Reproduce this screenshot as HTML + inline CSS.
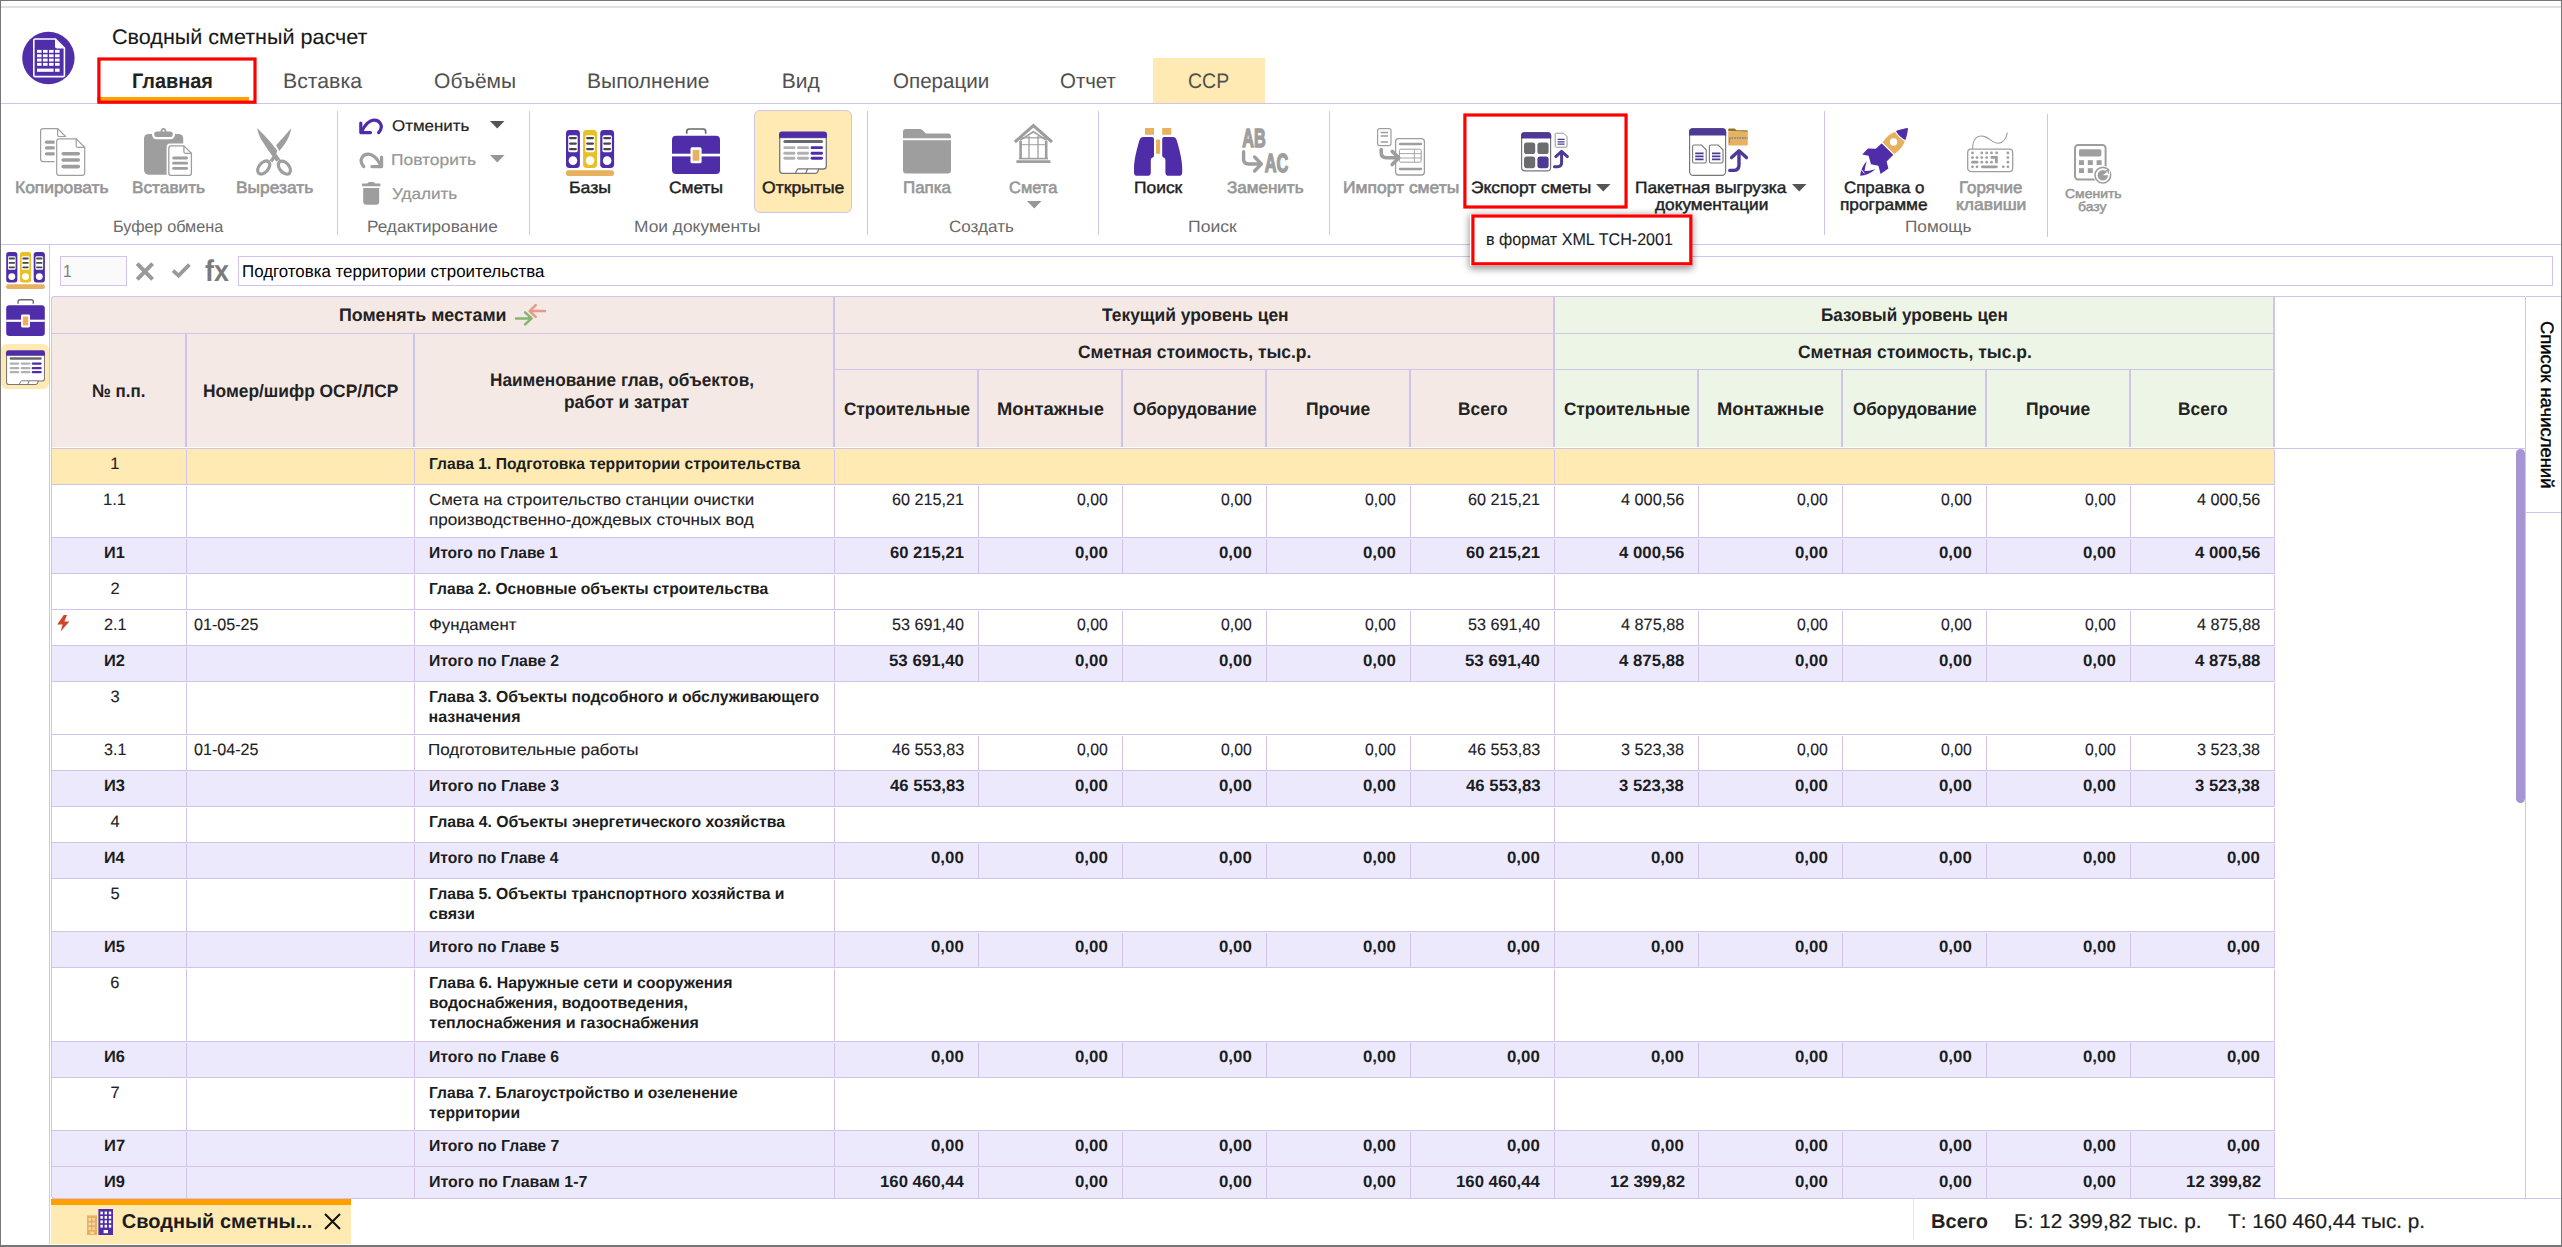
<!DOCTYPE html>
<html lang="ru"><head><meta charset="utf-8"><title>Сводный сметный расчет</title>
<style>
html,body{margin:0;padding:0;background:#fff;}
#app{position:relative;width:2562px;height:1247px;overflow:hidden;background:#fff;font-family:"Liberation Sans", sans-serif;color:#222;text-rendering:geometricPrecision;}
#app div,#app svg,#app span.t{position:absolute;}
#app div{box-sizing:border-box;}
#app span.t{white-space:nowrap;line-height:1;transform-origin:0 0;}
#app svg{overflow:visible;}
</style></head>
<body>
<div id="app">
<div style="left:0px;top:0px;width:2562px;height:1px;background:#777;"></div>
<div style="left:0px;top:6px;width:2562px;height:2px;background:#dfe0df;"></div>
<div style="left:0px;top:0px;width:1px;height:1247px;background:#777;"></div>
<div style="left:2561px;top:0px;width:1px;height:1247px;background:#777;"></div>
<div style="left:0px;top:1245px;width:2562px;height:2px;background:#777;"></div>
<svg style="left:22px;top:32px;" width="53" height="53" viewBox="0 0 53 53"><circle cx="26.4" cy="26" r="26.2" fill="#502da9"/><path d="M13.2 7H33.4L42.4 16.2V43.2Q42.4 44.6 41 44.6H13.2Q11.8 44.6 11.8 43.2V8.4Q11.8 7 13.2 7Z" fill="none" stroke="#fff" stroke-width="1.6"/><path d="M33 7.4V14.4Q33 16.4 35 16.4H42Z" fill="#fff"/><rect x="15.0" y="17.9" width="4.6" height="2.9" fill="#fff"/><rect x="21.0" y="17.9" width="4.6" height="2.9" fill="#fff"/><rect x="27.0" y="17.9" width="4.6" height="2.9" fill="#fff"/><rect x="33.0" y="17.9" width="4.6" height="2.9" fill="#fff"/><rect x="15.0" y="22.3" width="4.6" height="2.9" fill="#fff"/><rect x="21.0" y="22.3" width="4.6" height="2.9" fill="#fff"/><rect x="27.0" y="22.3" width="4.6" height="2.9" fill="#fff"/><rect x="33.0" y="22.3" width="4.6" height="2.9" fill="#fff"/><rect x="15.0" y="26.6" width="4.6" height="2.9" fill="#fff"/><rect x="21.0" y="26.6" width="4.6" height="2.9" fill="#fff"/><rect x="27.0" y="26.6" width="4.6" height="2.9" fill="#fff"/><rect x="33.0" y="26.6" width="4.6" height="2.9" fill="#fff"/><rect x="15.0" y="30.9" width="4.6" height="2.9" fill="#fff"/><rect x="21.0" y="30.9" width="4.6" height="2.9" fill="#fff"/><rect x="27.0" y="30.9" width="4.6" height="2.9" fill="#fff"/><rect x="33.0" y="30.9" width="4.6" height="2.9" fill="#fff"/><rect x="15" y="36.6" width="16.6" height="3.2" fill="#fff"/><rect x="33" y="36.6" width="4.6" height="3.2" fill="#fff"/></svg>
<span class="t" style="left:111.62px;top:27px;font-size:21px;color:#181818;transform:scaleX(1.0269);-webkit-text-stroke:0.1px currentColor;">Сводный сметный расчет</span>
<div style="left:1153px;top:58px;width:112px;height:45px;background:#ffeab3;"></div>
<div style="left:1px;top:103px;width:2560px;height:1px;background:#d0c4ea;"></div>
<div style="left:97px;top:97px;width:152px;height:5px;background:#ffa000;"></div>
<svg style="left:0;top:0" width="2562" height="300"><rect x="98.9" y="59.0" width="156.10" height="43.20" fill="none" stroke="#ff0000" stroke-width="3.2"/></svg>
<span class="t" style="left:131.87px;top:71px;font-size:21px;font-weight:bold;transform:scaleX(0.9473);">Главная</span>
<span class="t" style="left:283.08px;top:71px;font-size:21px;color:#505050;transform:scaleX(1.0121);">Вставка</span>
<span class="t" style="left:434.10px;top:71px;font-size:21px;color:#505050;">Объёмы</span>
<span class="t" style="left:587.10px;top:71px;font-size:21px;color:#505050;">Выполнение</span>
<span class="t" style="left:781.70px;top:71px;font-size:21px;color:#505050;">Вид</span>
<span class="t" style="left:893.32px;top:71px;font-size:21px;color:#505050;transform:scaleX(0.9802);">Операции</span>
<span class="t" style="left:1060.43px;top:71px;font-size:21px;color:#505050;transform:scaleX(0.9720);">Отчет</span>
<span class="t" style="left:1188.17px;top:71px;font-size:21px;color:#505050;transform:scaleX(0.9282);">ССР</span>
<div style="left:1px;top:244px;width:2560px;height:1px;background:#d0c4ea;"></div>
<div style="left:337px;top:111px;width:1px;height:124px;background:#d0c4ea;"></div>
<div style="left:529px;top:111px;width:1px;height:124px;background:#d0c4ea;"></div>
<div style="left:867px;top:111px;width:1px;height:124px;background:#d0c4ea;"></div>
<div style="left:1098px;top:111px;width:1px;height:124px;background:#d0c4ea;"></div>
<div style="left:1329px;top:111px;width:1px;height:124px;background:#d0c4ea;"></div>
<div style="left:1824px;top:111px;width:1px;height:124px;background:#d0c4ea;"></div>
<div style="left:2047px;top:114px;width:1px;height:123px;background:#d0c4ea;"></div>
<div style="left:754px;top:110px;width:98px;height:103px;background:#ffeab3;border:1px solid #d0c4ea;border-radius:6px;"></div>
<svg style="left:40px;top:128px;" width="46" height="48" viewBox="0 0 46 48"><path d="M3.1 0.6H17.6L25.6 8.6V31.1Q25.6 33.6 23.1 33.6H3.1Q0.6 33.6 0.6 31.1V3.1Q0.6 0.6 3.1 0.6Z" fill="#fff" stroke="#9e9e9e" stroke-width="1.2"/><path d="M17.6 0.6V7.1Q17.6 8.6 19.1 8.6H25.6" fill="none" stroke="#9e9e9e" stroke-width="1.2"/><path d="M6.5 14.2H16" stroke="#9e9e9e" stroke-width="3.2" stroke-linecap="round"/><path d="M6.5 19.9H16" stroke="#9e9e9e" stroke-width="3.2" stroke-linecap="round"/><path d="M6.5 25.8H16" stroke="#9e9e9e" stroke-width="3.2" stroke-linecap="round"/><rect x="14.6" y="9" width="32" height="40" rx="3.5" fill="#fff"/><path d="M19.2 10.8H36.2L44.7 19.3V44.8Q44.7 47.3 42.2 47.3H19.2Q16.7 47.3 16.7 44.8V13.3Q16.7 10.8 19.2 10.8Z" fill="#fff" stroke="#9e9e9e" stroke-width="1.2"/><path d="M36.2 10.8V17.8Q36.2 19.3 37.7 19.3H44.7" fill="none" stroke="#9e9e9e" stroke-width="1.2"/><path d="M23.2 25.8H38.3" stroke="#9e9e9e" stroke-width="3.6" stroke-linecap="round"/><path d="M23.2 32H38.3" stroke="#9e9e9e" stroke-width="3.6" stroke-linecap="round"/><path d="M23.2 38.6H38.3" stroke="#9e9e9e" stroke-width="3.6" stroke-linecap="round"/></svg>
<svg style="left:144px;top:128px;" width="48" height="48" viewBox="0 0 48 48"><rect x="0" y="5.9" width="39.2" height="40.8" rx="4.6" fill="#9e9e9e"/><path d="M13 3.4H16.4Q17 0 19.5 0Q22 0 22.6 3.4H26Q28.8 3.4 28.8 6.2Q28.8 9 26 9H13Q10.2 9 10.2 6.2Q10.2 3.4 13 3.4Z" fill="#9e9e9e" stroke="#fff" stroke-width="4.4" stroke-linejoin="round"/><rect x="7.6" y="0" width="24" height="5.9" fill="#fff"/><path d="M13 3.4H16.4Q17 0 19.5 0Q22 0 22.6 3.4H26Q28.8 3.4 28.8 6.2Q28.8 9 26 9H13Q10.2 9 10.2 6.2Q10.2 3.4 13 3.4Z" fill="#9e9e9e"/><circle cx="19.5" cy="2.7" r="1" fill="#fff"/><rect x="22.6" y="15.6" width="27" height="34" rx="3.5" fill="#fff"/><path d="M27.3 17.8H39.900000000000006L47.400000000000006 25.3V44.900000000000006Q47.400000000000006 47.400000000000006 44.900000000000006 47.400000000000006H27.3Q24.8 47.400000000000006 24.8 44.900000000000006V20.3Q24.8 17.8 27.3 17.8Z" fill="#fff" stroke="#9e9e9e" stroke-width="1.3"/><path d="M39.900000000000006 17.8V23.8Q39.900000000000006 25.3 41.400000000000006 25.3H47.400000000000006" fill="none" stroke="#9e9e9e" stroke-width="1.3"/><path d="M29.6 30H42.6" stroke="#9e9e9e" stroke-width="2.8" stroke-linecap="round"/><path d="M29.6 35.2H42.6" stroke="#9e9e9e" stroke-width="2.8" stroke-linecap="round"/><path d="M29.6 40.4H42.6" stroke="#9e9e9e" stroke-width="2.8" stroke-linecap="round"/></svg>
<svg style="left:256px;top:128px;" width="36" height="48" viewBox="0 0 36 48"><path d="M15 33.4L18.4 28.6" stroke="#9e9e9e" stroke-width="3.4"/><path d="M35.2 0.2Q34 8.5 28.9 15.7Q26 19.8 23.3 23L20.1 17.3Q28 8.6 35.2 0.2Z" fill="#9e9e9e"/><path d="M1 0Q8 6.6 14.5 14.1L21.2 22.4L20.3 25.8L24.4 31.6L20.2 33.6L15.9 27.5Q10 19.2 4.9 10.9Q2 5.4 1 0Z" fill="#9e9e9e"/><ellipse cx="7.7" cy="39.5" rx="4.7" ry="7.6" transform="rotate(40 7.7 39.5)" fill="none" stroke="#9e9e9e" stroke-width="3.2"/><ellipse cx="28.4" cy="39.6" rx="4.7" ry="7.6" transform="rotate(-40 28.4 39.6)" fill="none" stroke="#9e9e9e" stroke-width="3.2"/></svg>
<svg style="left:359px;top:118px;" width="25" height="17" viewBox="0 0 25 17"><g fill="none" stroke="#4f2da8" stroke-width="3.2" stroke-linecap="round" stroke-linejoin="round"><path d="M19.6 14.6C25.5 8 20.5 1.8 14.6 2.2C10.5 2.5 6 7 2.6 13.4"/><path d="M1.8 5V14.6H11.5"/></g></svg>
<svg style="left:359px;top:152px;" width="25" height="17" viewBox="0 0 25 17"><g transform="translate(24.4 0) scale(-1 1)" fill="none" stroke="#9e9e9e" stroke-width="3.2" stroke-linecap="round" stroke-linejoin="round"><path d="M19.6 14.6C25.5 8 20.5 1.8 14.6 2.2C10.5 2.5 6 7 2.6 13.4"/><path d="M1.8 5V14.6H11.5"/></g></svg>
<svg style="left:362px;top:182px;" width="19" height="23" viewBox="0 0 19 23"><path d="M0 1.6H5.2Q6 0 7.6 0H10.8Q12.4 0 13.2 1.6H18.4V4.2H0Z" fill="#9e9e9e"/><path d="M1.2 6H17.2V19.6Q17.2 22.8 14 22.8H4.4Q1.2 22.8 1.2 19.6Z" fill="#9e9e9e"/></svg>
<svg style="left:566px;top:130px;" width="48" height="46" viewBox="0 0 48 46"><rect x="0.0" y="0" width="13.9" height="38" rx="3.4" fill="#4f2da8"/><rect x="2.2" y="5.2" width="9.5" height="17" rx="1.6" fill="#fff"/><circle cx="6.95" cy="30.6" r="4.3" fill="#fff"/><rect x="3.0" y="6.9" width="7.9" height="2.3" rx="1.1" fill="#46464a"/><rect x="3.0" y="12.4" width="7.9" height="2.3" rx="1.1" fill="#46464a"/><rect x="3.0" y="17.9" width="7.9" height="2.3" rx="1.1" fill="#46464a"/><rect x="17.1" y="0" width="13.9" height="38" rx="3.4" fill="#e9c025"/><rect x="19.3" y="5.2" width="9.5" height="17" rx="1.6" fill="#fff"/><circle cx="24.05" cy="30.6" r="4.3" fill="#fff"/><rect x="20.1" y="6.9" width="7.9" height="2.3" rx="1.1" fill="#46464a"/><rect x="20.1" y="12.4" width="7.9" height="2.3" rx="1.1" fill="#46464a"/><rect x="20.1" y="17.9" width="7.9" height="2.3" rx="1.1" fill="#46464a"/><rect x="34.2" y="0" width="13.9" height="38" rx="3.4" fill="#4f2da8"/><rect x="36.400000000000006" y="5.2" width="9.5" height="17" rx="1.6" fill="#fff"/><circle cx="41.150000000000006" cy="30.6" r="4.3" fill="#fff"/><rect x="37.2" y="6.9" width="7.9" height="2.3" rx="1.1" fill="#46464a"/><rect x="37.2" y="12.4" width="7.9" height="2.3" rx="1.1" fill="#46464a"/><rect x="37.2" y="17.9" width="7.9" height="2.3" rx="1.1" fill="#46464a"/><rect x="0" y="40.2" width="48" height="5.8" rx="2.2" fill="#e8b15f"/></svg>
<svg style="left:672px;top:128px;" width="48" height="46" viewBox="0 0 48 46"><path d="M14.7 5.8V3.6Q14.7 1 17.3 1H31.1Q33.7 1 33.7 3.6V5.8" fill="none" stroke="#6a6a6e" stroke-width="1.7"/><rect x="0" y="7.8" width="48" height="38.2" rx="4" fill="#4f2da8"/><rect x="0" y="25.7" width="48" height="2.7" fill="#fff"/><rect x="18.5" y="19.3" width="11.1" height="16" rx="1.6" fill="#fff"/><rect x="20.7" y="21.9" width="6.7" height="10.9" rx="0.6" fill="#e8b15f"/></svg>
<svg style="left:779px;top:131px;" width="48" height="43" viewBox="0 0 48 43"><path d="M0.7 6.5V39.6Q0.7 42.4 3.5 42.4H36.4Q38 42.4 38.6 41L39.8 38H44.5Q47.3 38 47.3 35.2V6.5Z" fill="#fff" stroke="#77777c" stroke-width="1.3"/><path d="M16.4 42.2L18.2 38.6Q18.6 37.9 19.4 37.9H40" fill="none" stroke="#77777c" stroke-width="1.2"/><path d="M28.6 38L26.8 42.2" stroke="#77777c" stroke-width="1.2"/><path d="M0 6.7V3.4Q0 0.4 3 0.4H45Q48 0.4 48 3.4V6.7Z" fill="#4f2da8"/><rect x="4.4" y="9" width="39.6" height="3" rx="1.5" fill="#68686e"/><rect x="4.4" y="15.2" width="12" height="2.9" rx="1.4" fill="#b1b1b3"/><rect x="18" y="15.2" width="12" height="2.9" rx="1.4" fill="#b1b1b3"/><rect x="31.6" y="15.2" width="12.4" height="2.9" rx="1.4" fill="#4f2da8"/><rect x="4.4" y="20.8" width="12" height="2.9" rx="1.4" fill="#b1b1b3"/><rect x="18" y="20.8" width="12" height="2.9" rx="1.4" fill="#b1b1b3"/><rect x="31.6" y="20.8" width="12.4" height="2.9" rx="1.4" fill="#4f2da8"/><rect x="4.4" y="25.8" width="12" height="2.9" rx="1.4" fill="#b1b1b3"/><rect x="18" y="25.8" width="12" height="2.9" rx="1.4" fill="#b1b1b3"/><rect x="31.6" y="25.8" width="12.4" height="2.9" rx="1.4" fill="#4f2da8"/></svg>
<svg style="left:903px;top:129px;" width="48" height="45" viewBox="0 0 48 45"><path d="M0 9.2V3Q0 0 3 0H16.5Q18.4 0 19.8 1.4L23 4.6H45Q48 4.6 48 7.6V9.2Z" fill="#9e9e9e"/><path d="M0 11.2H48V41.4Q48 44.4 45 44.4H3Q0 44.4 0 41.4Z" fill="#9e9e9e"/></svg>
<svg style="left:1014px;top:124px;" width="39" height="39" viewBox="0 0 39 39"><g fill="none" stroke="#9e9e9e"><path d="M0.8 18L19.4 1.6L38 18" stroke-width="3"/><path d="M6 16.4L19.4 7.8L32.8 16.4" stroke-width="1.6"/><path d="M6.6 17V35M32.2 17V35" stroke-width="2.6"/><path d="M6 20.6H32.8M6 13.8H32.8" stroke-width="1.4" opacity="0.8"/><path d="M15 12V35M24 12V35" stroke-width="1.5" opacity="0.85"/><path d="M4.8 34.6H34" stroke-width="1.6"/><path d="M2.4 37.6H36.4" stroke-width="2.6"/></g></svg>
<svg style="left:1134px;top:128px;" width="49" height="48" viewBox="0 0 49 48"><rect x="11" y="0" width="9" height="6.8" fill="#e8b15f"/><rect x="28.2" y="0" width="9" height="6.8" fill="#e8b15f"/><rect x="22" y="11.6" width="4.2" height="14.2" fill="#e8b15f"/><path d="M9.6 9H18Q20 9 20 11V27.6Q20 29.4 18.2 29.8Q16.8 30.2 16.8 32V44.4Q16.8 47.8 13.4 47.8H3.4Q0 47.8 0 44.4V40C0 32 3 20 5.4 12.4Q6.4 9 9.6 9Z" fill="#4f2da8"/><path d="M38.6 9H30.2Q28.2 9 28.2 11V27.6Q28.2 29.4 30 29.8Q31.4 30.2 31.4 32V44.4Q31.4 47.8 34.8 47.8H44.8Q48.2 47.8 48.2 44.4V40C48.2 32 45.2 20 42.8 12.4Q41.8 9 38.6 9Z" fill="#4f2da8"/></svg>
<svg style="left:1241px;top:129px;" width="49" height="45" viewBox="0 0 49 45"><text x="1.2" y="17.8" textLength="23.4" lengthAdjust="spacingAndGlyphs" style="font-family:&quot;Liberation Sans&quot;,sans-serif;font-weight:bold;font-size:26px;fill:#9e9e9e;stroke:#9e9e9e;stroke-width:1.5px;stroke-linejoin:round">AB</text><text x="23.8" y="43" textLength="23.6" lengthAdjust="spacingAndGlyphs" style="font-family:&quot;Liberation Sans&quot;,sans-serif;font-weight:bold;font-size:26px;fill:#9e9e9e;stroke:#9e9e9e;stroke-width:1.5px;stroke-linejoin:round">AC</text><path d="M2.6 22.6V30Q2.6 35 7.6 35H18.6" fill="none" stroke="#9e9e9e" stroke-width="3.4" stroke-linecap="round"/><path d="M13.6 28L20.4 35L13.6 42" fill="none" stroke="#9e9e9e" stroke-width="3.4" stroke-linecap="round" stroke-linejoin="round"/></svg>
<svg style="left:1377px;top:128px;" width="48" height="48" viewBox="0 0 48 48"><rect x="0.6" y="0.6" width="13.4" height="17" rx="2" fill="#fff" stroke="#9e9e9e" stroke-width="1.2"/><path d="M3.6 4.4H11M3.6 8H11M3.6 14H11" stroke="#9e9e9e" stroke-width="1.5"/><rect x="18.6" y="10.6" width="28.8" height="36.4" rx="3" fill="#fff" stroke="#9e9e9e" stroke-width="1.3"/><path d="M23 16H44M23 41H44" stroke="#9e9e9e" stroke-width="2.4" stroke-linecap="round"/><rect x="22.4" y="21.2" width="21.8" height="13" rx="1.5" fill="none" stroke="#9e9e9e" stroke-width="1"/><path d="M22.4 25.6H44.2M22.4 30H44.2M37.4 21.2V34.2" stroke="#9e9e9e" stroke-width="0.9"/><path d="M4.2 21.6V24.6Q4.2 29.8 9.4 29.8H20.4" fill="none" stroke="#9e9e9e" stroke-width="3.6" stroke-linecap="round"/><path d="M15.2 23.4L21.8 29.8L15.2 36.6" fill="none" stroke="#9e9e9e" stroke-width="3.6" stroke-linecap="round" stroke-linejoin="round"/></svg>
<svg style="left:1521px;top:132px;" width="48" height="40" viewBox="0 0 48 40"><rect x="0.6" y="0.6" width="29" height="38.2" rx="3.4" fill="#fff" stroke="#77777c" stroke-width="1.2"/><path d="M0 6.4V3.6Q0 0.2 3.4 0.2H26.8Q30.2 0.2 30.2 3.6V6.4Z" fill="#4d3a94"/><rect x="3" y="10.4" width="11.2" height="11.6" rx="2.6" fill="#6b6b70"/><rect x="16.4" y="10.4" width="11.2" height="11.6" rx="2.6" fill="#6b6b70"/><rect x="3" y="24.6" width="11.2" height="11.6" rx="2.6" fill="#6b6b70"/><rect x="16.4" y="24.6" width="11.2" height="11.6" rx="2.6" fill="#4d3a94"/><path d="M35.2 1.2H42.6L46 4.6V14.2Q46 15.2 45 15.2H35.2Q34.2 15.2 34.2 14.2V2.2Q34.2 1.2 35.2 1.2Z" fill="#fff" stroke="#8a8a8e" stroke-width="0.9"/><path d="M36.6 7.4H43.6M36.6 9.8H43.6M36.6 12.2H43.6" stroke="#4d3a94" stroke-width="1.3"/><path d="M33.4 34.8H36.4Q40.6 34.8 40.6 30.6V21" fill="none" stroke="#4d3a94" stroke-width="3" stroke-linecap="round"/><path d="M34.8 24.6L40.6 19.4L46.4 24.6" fill="none" stroke="#4d3a94" stroke-width="3" stroke-linecap="round" stroke-linejoin="round"/></svg>
<svg style="left:1689px;top:128px;" width="59" height="48" viewBox="0 0 59 48"><rect x="0.6" y="0.6" width="36" height="46.8" rx="3.6" fill="#fff" stroke="#77777c" stroke-width="1.2"/><path d="M0 7.6V3.8Q0 0.2 3.6 0.2H33.6Q37.2 0.2 37.2 3.8V7.6Z" fill="#4d3a94"/><path d="M5.2 17H12.4L17.2 21.8V33.4Q17.2 35 15.6 35H5.2Q3.6 35 3.6 33.4V18.6Q3.6 17 5.2 17Z" fill="#fff" stroke="#77777c" stroke-width="1.1"/><path d="M6.2 25.4H14.6M6.2 28.4H14.6M6.2 31.4H14.6" stroke="#4d3a94" stroke-width="1.7"/><path d="M22.0 17H29.2L34.0 21.8V33.4Q34.0 35 32.4 35H22.0Q20.4 35 20.4 33.4V18.6Q20.4 17 22.0 17Z" fill="#fff" stroke="#77777c" stroke-width="1.1"/><path d="M23.0 25.4H31.4M23.0 28.4H31.4M23.0 31.4H31.4" stroke="#4d3a94" stroke-width="1.7"/><path d="M39.2 3.2V1.6Q39.2 0.4 40.4 0.4H45.6L47.6 2.2H57.6Q58.8 2.2 58.8 3.4V4Z" fill="#9a7220"/><rect x="39.2" y="3.6" width="19.6" height="14" rx="1" fill="#e8b15f"/><path d="M40 10H58.8" stroke="#8d8d90" stroke-width="2.2" stroke-dasharray="1.6 1"/><path d="M40.6 10V15" stroke="#8d8d90" stroke-width="1.4"/><path d="M40.8 42.4H44.6Q50 42.4 50 37V25" fill="none" stroke="#4d3a94" stroke-width="3.4" stroke-linecap="round"/><path d="M42.6 29.6L50 22.8L57.4 29.6" fill="none" stroke="#4d3a94" stroke-width="3.4" stroke-linecap="round" stroke-linejoin="round"/></svg>
<svg style="left:1860px;top:128px;" width="48" height="48" viewBox="0 0 48 48"><path d="M22.4 14.6C27 7 34 2.6 47.8 0C46.6 13 42.6 20.6 33.6 26.4Z" fill="#e8b15f"/><path d="M35.4 3.2C40 1.4 44 0.6 48 0C47.6 4.6 46.6 8.6 45.2 12.4Q39 9.8 35.4 3.2Z" fill="#4f2da8"/><path d="M35 2.8Q39 10 45.6 12.8" fill="none" stroke="#fff" stroke-width="1.3"/><circle cx="33.6" cy="14" r="3.7" fill="#fff"/><path d="M21.8 15.2L33.6 26.6L26.6 33.6L28.4 40.6L20.6 46L18.4 37.8L11 36.2L8.6 27.8L2.2 26.6L8 20.4L15.8 20.8Z" fill="#4f2da8"/><path d="M21.6 14.4L34 26.6" fill="none" stroke="#fff" stroke-width="1.3"/><path d="M6.8 33C2.6 37.6 0.6 42.8 0.2 47.8C5.4 47.4 10.6 45.4 15.4 41.2C10.6 42.6 7.4 43 4.6 43C5 40 5.6 36.8 6.8 33Z" fill="#4f2da8"/><path d="M1.4 41.6L4.4 45.4" stroke="#fff" stroke-width="1"/></svg>
<svg style="left:1967px;top:132px;" width="47" height="41" viewBox="0 0 47 41"><rect x="0.7" y="17.2" width="45" height="22.4" rx="3.4" fill="#fff" stroke="#9e9e9e" stroke-width="1.3"/><path d="M5.6 17C5.6 6 10.6 3 17 4.4C23 5.8 25.4 11.6 31.6 11.2C36.4 10.8 39.4 5.4 40.4 0.6" fill="none" stroke="#9e9e9e" stroke-width="1.1"/><circle cx="5.5" cy="20.9" r="1.4" fill="#9e9e9e"/><circle cx="14.8" cy="20.9" r="1.4" fill="#9e9e9e"/><circle cx="19.7" cy="20.9" r="1.4" fill="#9e9e9e"/><circle cx="24.5" cy="20.9" r="1.4" fill="#9e9e9e"/><circle cx="29.7" cy="20.9" r="1.4" fill="#9e9e9e"/><circle cx="40.9" cy="20.9" r="1.4" fill="#9e9e9e"/><circle cx="5.5" cy="25.6" r="1.4" fill="#9e9e9e"/><circle cx="10" cy="25.6" r="1.4" fill="#9e9e9e"/><circle cx="14.8" cy="25.6" r="1.4" fill="#9e9e9e"/><circle cx="19.7" cy="25.6" r="1.4" fill="#9e9e9e"/><circle cx="40.9" cy="25.6" r="1.4" fill="#9e9e9e"/><circle cx="14.8" cy="30.2" r="1.4" fill="#9e9e9e"/><circle cx="19.7" cy="30.2" r="1.4" fill="#9e9e9e"/><circle cx="24.5" cy="30.2" r="1.4" fill="#9e9e9e"/><circle cx="40.9" cy="30.2" r="1.4" fill="#9e9e9e"/><circle cx="5.5" cy="34.8" r="1.4" fill="#9e9e9e"/><circle cx="10" cy="34.8" r="1.4" fill="#9e9e9e"/><circle cx="36.3" cy="34.8" r="1.4" fill="#9e9e9e"/><circle cx="40.9" cy="34.8" r="1.4" fill="#9e9e9e"/><rect x="14" y="33.4" width="16.8" height="2.8" rx="1.4" fill="#9e9e9e"/><rect x="4.2" y="28.8" width="7.2" height="2.8" rx="1.4" fill="#9e9e9e"/><path d="M23.6 25.4H29.4V31.2" fill="none" stroke="#9e9e9e" stroke-width="2.8"/></svg>
<svg style="left:2074px;top:144px;" width="39" height="41" viewBox="0 0 39 41"><rect x="1" y="1" width="30.6" height="34.4" rx="3.2" fill="#fff" stroke="#9e9e9e" stroke-width="2"/><rect x="5" y="5.2" width="22.4" height="7.2" rx="1.6" fill="#9e9e9e"/><rect x="5" y="16.2" width="5" height="4.8" fill="#9e9e9e"/><rect x="13.8" y="16.2" width="5" height="4.8" fill="#9e9e9e"/><rect x="22.6" y="16.2" width="5" height="4.8" fill="#9e9e9e"/><rect x="5" y="24.2" width="5" height="4.8" fill="#9e9e9e"/><rect x="13.8" y="24.2" width="5" height="4.8" fill="#9e9e9e"/><circle cx="28.8" cy="31.2" r="9.4" fill="#fff"/><circle cx="28.8" cy="31.2" r="7.8" fill="#fff" stroke="#9e9e9e" stroke-width="1.6"/><circle cx="28.8" cy="31.2" r="5.2" fill="#9e9e9e"/><path d="M28.8 31.2L36 26V31.2Z" fill="#fff"/><path d="M31.6 26.6H34.4V29.4" fill="none" stroke="#9e9e9e" stroke-width="1.4"/></svg>
<svg style="left:490px;top:121px;" width="16" height="9" viewBox="0 0 16 9"><path d="M0 0H14.5L7.25 7.5Z" fill="#555"/></svg>
<svg style="left:490px;top:155px;" width="16" height="9" viewBox="0 0 16 9"><path d="M0 0H14.5L7.25 7.5Z" fill="#969696"/></svg>
<svg style="left:1027px;top:201px;" width="16" height="9" viewBox="0 0 16 9"><path d="M0 0H14.5L7.25 7.5Z" fill="#969696"/></svg>
<svg style="left:1596px;top:184px;" width="16" height="9" viewBox="0 0 16 9"><path d="M0 0H14.5L7.25 7.5Z" fill="#555"/></svg>
<svg style="left:1792px;top:184px;" width="16" height="9" viewBox="0 0 16 9"><path d="M0 0H14.5L7.25 7.5Z" fill="#555"/></svg>
<span class="t" style="left:14.93px;top:180px;font-size:16.5px;color:#969696;transform:scaleX(1.0536);-webkit-text-stroke:0.6px currentColor;">Копировать</span>
<span class="t" style="left:131.64px;top:180px;font-size:16.5px;color:#969696;transform:scaleX(1.0449);-webkit-text-stroke:0.6px currentColor;">Вставить</span>
<span class="t" style="left:235.83px;top:180px;font-size:16.5px;color:#969696;transform:scaleX(1.0519);-webkit-text-stroke:0.6px currentColor;">Вырезать</span>
<span class="t" style="left:568.83px;top:180px;font-size:16.5px;color:#1f1f1f;transform:scaleX(1.0723);-webkit-text-stroke:0.45px currentColor;">Базы</span>
<span class="t" style="left:669.38px;top:180px;font-size:16.5px;color:#1f1f1f;transform:scaleX(1.0527);-webkit-text-stroke:0.45px currentColor;">Сметы</span>
<span class="t" style="left:761.88px;top:180px;font-size:16.5px;color:#1f1f1f;transform:scaleX(1.0657);-webkit-text-stroke:0.45px currentColor;">Открытые</span>
<span class="t" style="left:902.97px;top:180px;font-size:16.5px;color:#969696;transform:scaleX(1.0253);-webkit-text-stroke:0.6px currentColor;">Папка</span>
<span class="t" style="left:1009.40px;top:180px;font-size:16.5px;color:#969696;transform:scaleX(0.9966);-webkit-text-stroke:0.6px currentColor;">Смета</span>
<span class="t" style="left:1133.85px;top:180px;font-size:16.5px;color:#1f1f1f;transform:scaleX(1.0550);-webkit-text-stroke:0.45px currentColor;">Поиск</span>
<span class="t" style="left:1226.58px;top:180px;font-size:16.5px;color:#969696;transform:scaleX(1.0322);-webkit-text-stroke:0.6px currentColor;">Заменить</span>
<span class="t" style="left:1342.52px;top:180px;font-size:16.5px;color:#969696;transform:scaleX(1.0581);-webkit-text-stroke:0.6px currentColor;">Импорт сметы</span>
<span class="t" style="left:1470.68px;top:180px;font-size:16.5px;color:#1f1f1f;transform:scaleX(1.0524);-webkit-text-stroke:0.45px currentColor;">Экспорт сметы</span>
<span class="t" style="left:1634.86px;top:180px;font-size:16.5px;color:#1f1f1f;transform:scaleX(1.0466);-webkit-text-stroke:0.45px currentColor;">Пакетная выгрузка</span>
<span class="t" style="left:1844.11px;top:180px;font-size:16.5px;color:#1f1f1f;transform:scaleX(1.0239);-webkit-text-stroke:0.45px currentColor;">Справка о</span>
<span class="t" style="left:1958.97px;top:180px;font-size:16.5px;color:#969696;transform:scaleX(1.0242);-webkit-text-stroke:0.6px currentColor;">Горячие</span>
<span class="t" style="left:1654.92px;top:197px;font-size:16.5px;color:#1f1f1f;transform:scaleX(1.0460);-webkit-text-stroke:0.45px currentColor;">документации</span>
<span class="t" style="left:1840.47px;top:197px;font-size:16.5px;color:#1f1f1f;transform:scaleX(1.0490);-webkit-text-stroke:0.45px currentColor;">программе</span>
<span class="t" style="left:1955.94px;top:197px;font-size:16.5px;color:#969696;transform:scaleX(1.0554);-webkit-text-stroke:0.6px currentColor;">клавиши</span>
<span class="t" style="left:391.94px;top:119px;font-size:15.5px;color:#1f1f1f;transform:scaleX(1.0928);-webkit-text-stroke:0.2px currentColor;">Отменить</span>
<span class="t" style="left:391.35px;top:153px;font-size:15.5px;color:#969696;transform:scaleX(1.1235);-webkit-text-stroke:0.2px currentColor;">Повторить</span>
<span class="t" style="left:392.26px;top:187px;font-size:15.5px;color:#969696;transform:scaleX(1.1031);-webkit-text-stroke:0.2px currentColor;">Удалить</span>
<span class="t" style="left:2064.61px;top:187px;font-size:13px;color:#969696;transform:scaleX(1.0745);-webkit-text-stroke:0.5px currentColor;">Сменить</span>
<span class="t" style="left:2078.30px;top:200px;font-size:13px;color:#969696;transform:scaleX(1.0717);-webkit-text-stroke:0.5px currentColor;">базу</span>
<span class="t" style="left:112.72px;top:219px;font-size:16.5px;color:#6a6a6a;transform:scaleX(0.9834);">Буфер обмена</span>
<span class="t" style="left:367.15px;top:219px;font-size:16.5px;color:#6a6a6a;transform:scaleX(1.0403);">Редактирование</span>
<span class="t" style="left:634.03px;top:219px;font-size:16.5px;color:#6a6a6a;transform:scaleX(1.0520);">Мои документы</span>
<span class="t" style="left:949.17px;top:219px;font-size:16.5px;color:#6a6a6a;transform:scaleX(1.0341);">Создать</span>
<span class="t" style="left:1188.02px;top:219px;font-size:16.5px;color:#6a6a6a;transform:scaleX(1.0651);">Поиск</span>
<span class="t" style="left:1905.25px;top:219px;font-size:16.5px;color:#6a6a6a;transform:scaleX(1.0415);">Помощь</span>
<svg style="left:0;top:0" width="2562" height="300"><rect x="1464.9" y="115.0" width="161.15" height="92.00" fill="none" stroke="#ff0000" stroke-width="3.2"/></svg>
<div style="left:49px;top:245px;width:1px;height:999px;background:#d0c4ea;"></div>
<div style="left:1px;top:344px;width:48px;height:45px;background:#ffeab3;border-radius:6px;"></div>
<svg style="left:6px;top:252.2px;" width="39" height="37" viewBox="0 0 48 46"><rect x="0.0" y="0" width="13.9" height="38" rx="3.4" fill="#4f2da8"/><rect x="2.2" y="5.2" width="9.5" height="17" rx="1.6" fill="#fff"/><circle cx="6.95" cy="30.6" r="4.3" fill="#fff"/><rect x="3.0" y="6.9" width="7.9" height="2.3" rx="1.1" fill="#46464a"/><rect x="3.0" y="12.4" width="7.9" height="2.3" rx="1.1" fill="#46464a"/><rect x="3.0" y="17.9" width="7.9" height="2.3" rx="1.1" fill="#46464a"/><rect x="17.1" y="0" width="13.9" height="38" rx="3.4" fill="#e9c025"/><rect x="19.3" y="5.2" width="9.5" height="17" rx="1.6" fill="#fff"/><circle cx="24.05" cy="30.6" r="4.3" fill="#fff"/><rect x="20.1" y="6.9" width="7.9" height="2.3" rx="1.1" fill="#46464a"/><rect x="20.1" y="12.4" width="7.9" height="2.3" rx="1.1" fill="#46464a"/><rect x="20.1" y="17.9" width="7.9" height="2.3" rx="1.1" fill="#46464a"/><rect x="34.2" y="0" width="13.9" height="38" rx="3.4" fill="#4f2da8"/><rect x="36.400000000000006" y="5.2" width="9.5" height="17" rx="1.6" fill="#fff"/><circle cx="41.150000000000006" cy="30.6" r="4.3" fill="#fff"/><rect x="37.2" y="6.9" width="7.9" height="2.3" rx="1.1" fill="#46464a"/><rect x="37.2" y="12.4" width="7.9" height="2.3" rx="1.1" fill="#46464a"/><rect x="37.2" y="17.9" width="7.9" height="2.3" rx="1.1" fill="#46464a"/><rect x="0" y="40.2" width="48" height="5.8" rx="2.2" fill="#e8b15f"/></svg>
<svg style="left:6px;top:299px;" width="39" height="37" viewBox="0 0 48 46"><path d="M14.7 5.8V3.6Q14.7 1 17.3 1H31.1Q33.7 1 33.7 3.6V5.8" fill="none" stroke="#6a6a6e" stroke-width="1.7"/><rect x="0" y="7.8" width="48" height="38.2" rx="4" fill="#4f2da8"/><rect x="0" y="25.7" width="48" height="2.7" fill="#fff"/><rect x="18.5" y="19.3" width="11.1" height="16" rx="1.6" fill="#fff"/><rect x="20.7" y="21.9" width="6.7" height="10.9" rx="0.6" fill="#e8b15f"/></svg>
<svg style="left:6px;top:350px;" width="39" height="35" viewBox="0 0 48 43"><path d="M0.7 6.5V39.6Q0.7 42.4 3.5 42.4H36.4Q38 42.4 38.6 41L39.8 38H44.5Q47.3 38 47.3 35.2V6.5Z" fill="#fff" stroke="#77777c" stroke-width="1.3"/><path d="M16.4 42.2L18.2 38.6Q18.6 37.9 19.4 37.9H40" fill="none" stroke="#77777c" stroke-width="1.2"/><path d="M28.6 38L26.8 42.2" stroke="#77777c" stroke-width="1.2"/><path d="M0 6.7V3.4Q0 0.4 3 0.4H45Q48 0.4 48 3.4V6.7Z" fill="#4f2da8"/><rect x="4.4" y="9" width="39.6" height="3" rx="1.5" fill="#68686e"/><rect x="4.4" y="15.2" width="12" height="2.9" rx="1.4" fill="#b1b1b3"/><rect x="18" y="15.2" width="12" height="2.9" rx="1.4" fill="#b1b1b3"/><rect x="31.6" y="15.2" width="12.4" height="2.9" rx="1.4" fill="#4f2da8"/><rect x="4.4" y="20.8" width="12" height="2.9" rx="1.4" fill="#b1b1b3"/><rect x="18" y="20.8" width="12" height="2.9" rx="1.4" fill="#b1b1b3"/><rect x="31.6" y="20.8" width="12.4" height="2.9" rx="1.4" fill="#4f2da8"/><rect x="4.4" y="25.8" width="12" height="2.9" rx="1.4" fill="#b1b1b3"/><rect x="18" y="25.8" width="12" height="2.9" rx="1.4" fill="#b1b1b3"/><rect x="31.6" y="25.8" width="12.4" height="2.9" rx="1.4" fill="#4f2da8"/></svg>
<div style="left:60px;top:256px;width:67px;height:30px;background:#fafafa;border:1px solid #d0c4ea;"></div>
<span class="t" style="left:63.04px;top:263px;font-size:17.5px;color:#7d7d7d;transform:scaleX(0.8947);">1</span>
<svg style="left:135px;top:262px;" width="20" height="19" viewBox="0 0 20 19"><path d="M2.2 1.6L17.6 17.4M17.6 1.6L2.2 17.4" stroke="#9a9a9a" stroke-width="4" fill="none"/></svg>
<svg style="left:171px;top:263px;" width="20" height="15" viewBox="0 0 20 15"><path d="M2 7.6L7.6 12.6L18.4 1.6" stroke="#9a9a9a" stroke-width="3.8" fill="none"/></svg>
<span class="t" style="left:204.78px;top:257px;font-size:30px;font-weight:bold;color:#7a7a7a;transform:scaleX(0.8941);">fx</span>
<div style="left:238px;top:256px;width:2315px;height:30px;background:#fff;border:1px solid #d0c4ea;"></div>
<span class="t" style="left:241.91px;top:263px;font-size:17px;color:#000;transform:scaleX(0.9932);">Подготовка территории строительства</span>
<div style="left:51px;top:296px;width:1504px;height:151px;background:#f5e9e6;border:1px solid #d0c4ea;border-right:0;border-bottom:0;border-radius:4px 0 0 0;"></div>
<div style="left:1555px;top:296px;width:720px;height:151px;background:#edf5e6;border:1px solid #d0c4ea;border-left:0;border-right:0;border-bottom:0;"></div>
<div style="left:52px;top:333px;width:2222px;height:1px;background:#d0c4ea;"></div>
<div style="left:835px;top:369px;width:1439px;height:1px;background:#d0c4ea;"></div>
<div style="left:185px;top:334px;width:2px;height:113px;background:#d0c4ea;"></div>
<div style="left:413px;top:334px;width:2px;height:113px;background:#d0c4ea;"></div>
<div style="left:833px;top:297px;width:2px;height:150px;background:#d0c4ea;"></div>
<div style="left:1553px;top:297px;width:2px;height:150px;background:#d0c4ea;"></div>
<div style="left:2273px;top:297px;width:2px;height:150px;background:#d0c4ea;"></div>
<div style="left:977px;top:370px;width:2px;height:77px;background:#d0c4ea;"></div>
<div style="left:1121px;top:370px;width:2px;height:77px;background:#d0c4ea;"></div>
<div style="left:1265px;top:370px;width:2px;height:77px;background:#d0c4ea;"></div>
<div style="left:1409px;top:370px;width:2px;height:77px;background:#d0c4ea;"></div>
<div style="left:1697px;top:370px;width:2px;height:77px;background:#d0c4ea;"></div>
<div style="left:1841px;top:370px;width:2px;height:77px;background:#d0c4ea;"></div>
<div style="left:1985px;top:370px;width:2px;height:77px;background:#d0c4ea;"></div>
<div style="left:2129px;top:370px;width:2px;height:77px;background:#d0c4ea;"></div>
<div style="left:2275px;top:296px;width:250px;height:1px;background:#d0c4ea;"></div>
<div style="left:51px;top:448px;width:2474px;height:1px;background:#d0c4ea;"></div>
<span class="t" style="left:338.81px;top:306px;font-size:18px;font-weight:bold;transform:scaleX(0.9879);">Поменять местами</span>
<svg style="left:515px;top:304px;" width="32" height="22" viewBox="0 0 32 22"><path d="M15.4 7.1H30M20.7 1.2L14.6 7.1L20.7 12.8" fill="none" stroke="#e69a8a" stroke-width="2.5" stroke-linecap="round" stroke-linejoin="round"/><path d="M1 14.4H16M10.1 8.3L16.6 14.4L10.1 20.4" fill="none" stroke="#86b470" stroke-width="2.5" stroke-linecap="round" stroke-linejoin="round"/></svg>
<span class="t" style="left:1101.81px;top:306px;font-size:18px;font-weight:bold;transform:scaleX(0.9673);">Текущий уровень цен</span>
<span class="t" style="left:1821.06px;top:306px;font-size:18px;font-weight:bold;transform:scaleX(0.9502);">Базовый уровень цен</span>
<span class="t" style="left:1077.82px;top:343px;font-size:18px;font-weight:bold;transform:scaleX(0.9688);">Сметная стоимость, тыс.р.</span>
<span class="t" style="left:1797.62px;top:343px;font-size:18px;font-weight:bold;transform:scaleX(0.9709);">Сметная стоимость, тыс.р.</span>
<span class="t" style="left:92.47px;top:382px;font-size:18px;font-weight:bold;transform:scaleX(0.9410);">№ п.п.</span>
<span class="t" style="left:202.64px;top:382px;font-size:18px;font-weight:bold;transform:scaleX(0.9645);">Номер/шифр ОСР/ЛСР</span>
<span class="t" style="left:490.45px;top:371px;font-size:18px;font-weight:bold;transform:scaleX(0.9555);">Наименование глав, объектов,</span>
<span class="t" style="left:563.74px;top:393px;font-size:18px;font-weight:bold;transform:scaleX(0.9650);">работ и затрат</span>
<span class="t" style="left:843.53px;top:400px;font-size:18px;font-weight:bold;transform:scaleX(0.9517);">Строительные</span>
<span class="t" style="left:996.78px;top:400px;font-size:18px;font-weight:bold;transform:scaleX(1.0205);">Монтажные</span>
<span class="t" style="left:1132.54px;top:400px;font-size:18px;font-weight:bold;transform:scaleX(0.9399);">Оборудование</span>
<span class="t" style="left:1306.23px;top:400px;font-size:18px;font-weight:bold;transform:scaleX(0.9720);">Прочие</span>
<span class="t" style="left:1457.64px;top:400px;font-size:18px;font-weight:bold;transform:scaleX(0.9660);">Всего</span>
<span class="t" style="left:1563.53px;top:400px;font-size:18px;font-weight:bold;transform:scaleX(0.9517);">Строительные</span>
<span class="t" style="left:1716.78px;top:400px;font-size:18px;font-weight:bold;transform:scaleX(1.0205);">Монтажные</span>
<span class="t" style="left:1852.54px;top:400px;font-size:18px;font-weight:bold;transform:scaleX(0.9399);">Оборудование</span>
<span class="t" style="left:2026.23px;top:400px;font-size:18px;font-weight:bold;transform:scaleX(0.9720);">Прочие</span>
<span class="t" style="left:2177.64px;top:400px;font-size:18px;font-weight:bold;transform:scaleX(0.9660);">Всего</span>
<div style="left:51px;top:447px;width:1px;height:744px;background:#d0c4ea;"></div>
<div style="left:52px;top:449px;width:2223px;height:35px;background:#ffeab3;"></div>
<div style="left:52px;top:484px;width:2223px;height:1px;background:#d0c4ea;"></div>
<div style="left:186px;top:450px;width:1px;height:34px;background:#d0c4ea;"></div>
<div style="left:414px;top:450px;width:1px;height:34px;background:#d0c4ea;"></div>
<div style="left:834px;top:450px;width:1px;height:34px;background:#d0c4ea;"></div>
<div style="left:1554px;top:450px;width:1px;height:34px;background:#d0c4ea;"></div>
<div style="left:2274px;top:450px;width:1px;height:34px;background:#d0c4ea;"></div>
<span class="t" style="left:110.20px;top:456px;font-size:16.5px;color:#1e2125;-webkit-text-stroke:0.12px currentColor;">1</span>
<span class="t" style="left:428.72px;top:457px;font-size:16px;font-weight:bold;color:#1b1d20;transform:scaleX(0.9787);">Глава 1. Подготовка территории строительства</span>
<div style="left:52px;top:537px;width:2223px;height:1px;background:#d0c4ea;"></div>
<div style="left:186px;top:486px;width:1px;height:51px;background:#d0c4ea;"></div>
<div style="left:414px;top:486px;width:1px;height:51px;background:#d0c4ea;"></div>
<div style="left:834px;top:486px;width:1px;height:51px;background:#d0c4ea;"></div>
<div style="left:978px;top:486px;width:1px;height:51px;background:#d0c4ea;"></div>
<div style="left:1122px;top:486px;width:1px;height:51px;background:#d0c4ea;"></div>
<div style="left:1266px;top:486px;width:1px;height:51px;background:#d0c4ea;"></div>
<div style="left:1410px;top:486px;width:1px;height:51px;background:#d0c4ea;"></div>
<div style="left:1554px;top:486px;width:1px;height:51px;background:#d0c4ea;"></div>
<div style="left:1698px;top:486px;width:1px;height:51px;background:#d0c4ea;"></div>
<div style="left:1842px;top:486px;width:1px;height:51px;background:#d0c4ea;"></div>
<div style="left:1986px;top:486px;width:1px;height:51px;background:#d0c4ea;"></div>
<div style="left:2130px;top:486px;width:1px;height:51px;background:#d0c4ea;"></div>
<div style="left:2274px;top:486px;width:1px;height:51px;background:#d0c4ea;"></div>
<span class="t" style="left:103.15px;top:492px;font-size:16.5px;color:#1e2125;transform:scaleX(1.0057);-webkit-text-stroke:0.12px currentColor;">1.1</span>
<span class="t" style="left:428.91px;top:493px;font-size:16px;color:#1e2125;transform:scaleX(1.0580);-webkit-text-stroke:0.12px currentColor;">Смета на строительство станции очистки</span>
<span class="t" style="left:428.58px;top:513px;font-size:16px;color:#1e2125;transform:scaleX(1.0684);-webkit-text-stroke:0.12px currentColor;">производственно-дождевых сточных вод</span>
<span class="t" style="left:891.78px;top:492px;font-size:16.5px;color:#1e2125;transform:scaleX(0.9812);-webkit-text-stroke:0.12px currentColor;">60 215,21</span>
<span class="t" style="left:1077.09px;top:492px;font-size:16.5px;color:#1e2125;transform:scaleX(0.9561);-webkit-text-stroke:0.12px currentColor;">0,00</span>
<span class="t" style="left:1221.09px;top:492px;font-size:16.5px;color:#1e2125;transform:scaleX(0.9561);-webkit-text-stroke:0.12px currentColor;">0,00</span>
<span class="t" style="left:1365.09px;top:492px;font-size:16.5px;color:#1e2125;transform:scaleX(0.9561);-webkit-text-stroke:0.12px currentColor;">0,00</span>
<span class="t" style="left:1467.78px;top:492px;font-size:16.5px;color:#1e2125;transform:scaleX(0.9812);-webkit-text-stroke:0.12px currentColor;">60 215,21</span>
<span class="t" style="left:1621.16px;top:492px;font-size:16.5px;color:#1e2125;transform:scaleX(0.9862);-webkit-text-stroke:0.12px currentColor;">4 000,56</span>
<span class="t" style="left:1797.09px;top:492px;font-size:16.5px;color:#1e2125;transform:scaleX(0.9561);-webkit-text-stroke:0.12px currentColor;">0,00</span>
<span class="t" style="left:1941.09px;top:492px;font-size:16.5px;color:#1e2125;transform:scaleX(0.9561);-webkit-text-stroke:0.12px currentColor;">0,00</span>
<span class="t" style="left:2085.09px;top:492px;font-size:16.5px;color:#1e2125;transform:scaleX(0.9561);-webkit-text-stroke:0.12px currentColor;">0,00</span>
<span class="t" style="left:2197.16px;top:492px;font-size:16.5px;color:#1e2125;transform:scaleX(0.9862);-webkit-text-stroke:0.12px currentColor;">4 000,56</span>
<div style="left:52px;top:538px;width:2223px;height:35px;background:#ede9fd;"></div>
<div style="left:52px;top:573px;width:2223px;height:1px;background:#d0c4ea;"></div>
<div style="left:186px;top:539px;width:1px;height:34px;background:#d0c4ea;"></div>
<div style="left:414px;top:539px;width:1px;height:34px;background:#d0c4ea;"></div>
<div style="left:834px;top:539px;width:1px;height:34px;background:#d0c4ea;"></div>
<div style="left:978px;top:539px;width:1px;height:34px;background:#d0c4ea;"></div>
<div style="left:1122px;top:539px;width:1px;height:34px;background:#d0c4ea;"></div>
<div style="left:1266px;top:539px;width:1px;height:34px;background:#d0c4ea;"></div>
<div style="left:1410px;top:539px;width:1px;height:34px;background:#d0c4ea;"></div>
<div style="left:1554px;top:539px;width:1px;height:34px;background:#d0c4ea;"></div>
<div style="left:1698px;top:539px;width:1px;height:34px;background:#d0c4ea;"></div>
<div style="left:1842px;top:539px;width:1px;height:34px;background:#d0c4ea;"></div>
<div style="left:1986px;top:539px;width:1px;height:34px;background:#d0c4ea;"></div>
<div style="left:2130px;top:539px;width:1px;height:34px;background:#d0c4ea;"></div>
<div style="left:2274px;top:539px;width:1px;height:34px;background:#d0c4ea;"></div>
<span class="t" style="left:104.21px;top:545px;font-size:16.5px;font-weight:bold;color:#1b1d20;transform:scaleX(0.9868);">И1</span>
<span class="t" style="left:428.73px;top:546px;font-size:16px;font-weight:bold;color:#1b1d20;transform:scaleX(0.9714);">Итого по Главе 1</span>
<span class="t" style="left:889.50px;top:545px;font-size:16.5px;font-weight:bold;color:#1b1d20;transform:scaleX(1.0079);">60 215,21</span>
<span class="t" style="left:1075.19px;top:545px;font-size:16.5px;font-weight:bold;color:#1b1d20;transform:scaleX(1.0215);">0,00</span>
<span class="t" style="left:1219.19px;top:545px;font-size:16.5px;font-weight:bold;color:#1b1d20;transform:scaleX(1.0215);">0,00</span>
<span class="t" style="left:1363.19px;top:545px;font-size:16.5px;font-weight:bold;color:#1b1d20;transform:scaleX(1.0215);">0,00</span>
<span class="t" style="left:1465.50px;top:545px;font-size:16.5px;font-weight:bold;color:#1b1d20;transform:scaleX(1.0079);">60 215,21</span>
<span class="t" style="left:1619.10px;top:545px;font-size:16.5px;font-weight:bold;color:#1b1d20;transform:scaleX(1.0181);">4 000,56</span>
<span class="t" style="left:1795.19px;top:545px;font-size:16.5px;font-weight:bold;color:#1b1d20;transform:scaleX(1.0215);">0,00</span>
<span class="t" style="left:1939.19px;top:545px;font-size:16.5px;font-weight:bold;color:#1b1d20;transform:scaleX(1.0215);">0,00</span>
<span class="t" style="left:2083.19px;top:545px;font-size:16.5px;font-weight:bold;color:#1b1d20;transform:scaleX(1.0215);">0,00</span>
<span class="t" style="left:2195.10px;top:545px;font-size:16.5px;font-weight:bold;color:#1b1d20;transform:scaleX(1.0181);">4 000,56</span>
<div style="left:52px;top:609px;width:2223px;height:1px;background:#d0c4ea;"></div>
<div style="left:186px;top:575px;width:1px;height:34px;background:#d0c4ea;"></div>
<div style="left:414px;top:575px;width:1px;height:34px;background:#d0c4ea;"></div>
<div style="left:834px;top:575px;width:1px;height:34px;background:#d0c4ea;"></div>
<div style="left:1554px;top:575px;width:1px;height:34px;background:#d0c4ea;"></div>
<div style="left:2274px;top:575px;width:1px;height:34px;background:#d0c4ea;"></div>
<span class="t" style="left:110.40px;top:581px;font-size:16.5px;color:#1e2125;-webkit-text-stroke:0.12px currentColor;">2</span>
<span class="t" style="left:428.72px;top:582px;font-size:16px;font-weight:bold;color:#1b1d20;transform:scaleX(0.9762);">Глава 2. Основные объекты строительства</span>
<div style="left:52px;top:645px;width:2223px;height:1px;background:#d0c4ea;"></div>
<div style="left:186px;top:611px;width:1px;height:34px;background:#d0c4ea;"></div>
<div style="left:414px;top:611px;width:1px;height:34px;background:#d0c4ea;"></div>
<div style="left:834px;top:611px;width:1px;height:34px;background:#d0c4ea;"></div>
<div style="left:978px;top:611px;width:1px;height:34px;background:#d0c4ea;"></div>
<div style="left:1122px;top:611px;width:1px;height:34px;background:#d0c4ea;"></div>
<div style="left:1266px;top:611px;width:1px;height:34px;background:#d0c4ea;"></div>
<div style="left:1410px;top:611px;width:1px;height:34px;background:#d0c4ea;"></div>
<div style="left:1554px;top:611px;width:1px;height:34px;background:#d0c4ea;"></div>
<div style="left:1698px;top:611px;width:1px;height:34px;background:#d0c4ea;"></div>
<div style="left:1842px;top:611px;width:1px;height:34px;background:#d0c4ea;"></div>
<div style="left:1986px;top:611px;width:1px;height:34px;background:#d0c4ea;"></div>
<div style="left:2130px;top:611px;width:1px;height:34px;background:#d0c4ea;"></div>
<div style="left:2274px;top:611px;width:1px;height:34px;background:#d0c4ea;"></div>
<span class="t" style="left:103.57px;top:617px;font-size:16.5px;color:#1e2125;transform:scaleX(0.9869);-webkit-text-stroke:0.12px currentColor;">2.1</span>
<span class="t" style="left:194.17px;top:617px;font-size:16.5px;color:#1e2125;transform:scaleX(0.9770);-webkit-text-stroke:0.12px currentColor;">01-05-25</span>
<span class="t" style="left:428.82px;top:618px;font-size:16px;color:#1e2125;transform:scaleX(1.0488);-webkit-text-stroke:0.12px currentColor;">Фундамент</span>
<span class="t" style="left:892.27px;top:617px;font-size:16.5px;color:#1e2125;transform:scaleX(0.9800);-webkit-text-stroke:0.12px currentColor;">53 691,40</span>
<span class="t" style="left:1077.09px;top:617px;font-size:16.5px;color:#1e2125;transform:scaleX(0.9561);-webkit-text-stroke:0.12px currentColor;">0,00</span>
<span class="t" style="left:1221.09px;top:617px;font-size:16.5px;color:#1e2125;transform:scaleX(0.9561);-webkit-text-stroke:0.12px currentColor;">0,00</span>
<span class="t" style="left:1365.09px;top:617px;font-size:16.5px;color:#1e2125;transform:scaleX(0.9561);-webkit-text-stroke:0.12px currentColor;">0,00</span>
<span class="t" style="left:1468.27px;top:617px;font-size:16.5px;color:#1e2125;transform:scaleX(0.9800);-webkit-text-stroke:0.12px currentColor;">53 691,40</span>
<span class="t" style="left:1621.16px;top:617px;font-size:16.5px;color:#1e2125;transform:scaleX(0.9862);-webkit-text-stroke:0.12px currentColor;">4 875,88</span>
<span class="t" style="left:1797.09px;top:617px;font-size:16.5px;color:#1e2125;transform:scaleX(0.9561);-webkit-text-stroke:0.12px currentColor;">0,00</span>
<span class="t" style="left:1941.09px;top:617px;font-size:16.5px;color:#1e2125;transform:scaleX(0.9561);-webkit-text-stroke:0.12px currentColor;">0,00</span>
<span class="t" style="left:2085.09px;top:617px;font-size:16.5px;color:#1e2125;transform:scaleX(0.9561);-webkit-text-stroke:0.12px currentColor;">0,00</span>
<span class="t" style="left:2197.16px;top:617px;font-size:16.5px;color:#1e2125;transform:scaleX(0.9862);-webkit-text-stroke:0.12px currentColor;">4 875,88</span>
<div style="left:52px;top:646px;width:2223px;height:35px;background:#ede9fd;"></div>
<div style="left:52px;top:681px;width:2223px;height:1px;background:#d0c4ea;"></div>
<div style="left:186px;top:647px;width:1px;height:34px;background:#d0c4ea;"></div>
<div style="left:414px;top:647px;width:1px;height:34px;background:#d0c4ea;"></div>
<div style="left:834px;top:647px;width:1px;height:34px;background:#d0c4ea;"></div>
<div style="left:978px;top:647px;width:1px;height:34px;background:#d0c4ea;"></div>
<div style="left:1122px;top:647px;width:1px;height:34px;background:#d0c4ea;"></div>
<div style="left:1266px;top:647px;width:1px;height:34px;background:#d0c4ea;"></div>
<div style="left:1410px;top:647px;width:1px;height:34px;background:#d0c4ea;"></div>
<div style="left:1554px;top:647px;width:1px;height:34px;background:#d0c4ea;"></div>
<div style="left:1698px;top:647px;width:1px;height:34px;background:#d0c4ea;"></div>
<div style="left:1842px;top:647px;width:1px;height:34px;background:#d0c4ea;"></div>
<div style="left:1986px;top:647px;width:1px;height:34px;background:#d0c4ea;"></div>
<div style="left:2130px;top:647px;width:1px;height:34px;background:#d0c4ea;"></div>
<div style="left:2274px;top:647px;width:1px;height:34px;background:#d0c4ea;"></div>
<span class="t" style="left:104.20px;top:653px;font-size:16.5px;font-weight:bold;color:#1b1d20;transform:scaleX(0.9969);">И2</span>
<span class="t" style="left:428.72px;top:654px;font-size:16px;font-weight:bold;color:#1b1d20;transform:scaleX(0.9805);">Итого по Главе 2</span>
<span class="t" style="left:889.49px;top:653px;font-size:16.5px;font-weight:bold;color:#1b1d20;transform:scaleX(1.0204);">53 691,40</span>
<span class="t" style="left:1075.19px;top:653px;font-size:16.5px;font-weight:bold;color:#1b1d20;transform:scaleX(1.0215);">0,00</span>
<span class="t" style="left:1219.19px;top:653px;font-size:16.5px;font-weight:bold;color:#1b1d20;transform:scaleX(1.0215);">0,00</span>
<span class="t" style="left:1363.19px;top:653px;font-size:16.5px;font-weight:bold;color:#1b1d20;transform:scaleX(1.0215);">0,00</span>
<span class="t" style="left:1465.49px;top:653px;font-size:16.5px;font-weight:bold;color:#1b1d20;transform:scaleX(1.0204);">53 691,40</span>
<span class="t" style="left:1619.10px;top:653px;font-size:16.5px;font-weight:bold;color:#1b1d20;transform:scaleX(1.0165);">4 875,88</span>
<span class="t" style="left:1795.19px;top:653px;font-size:16.5px;font-weight:bold;color:#1b1d20;transform:scaleX(1.0215);">0,00</span>
<span class="t" style="left:1939.19px;top:653px;font-size:16.5px;font-weight:bold;color:#1b1d20;transform:scaleX(1.0215);">0,00</span>
<span class="t" style="left:2083.19px;top:653px;font-size:16.5px;font-weight:bold;color:#1b1d20;transform:scaleX(1.0215);">0,00</span>
<span class="t" style="left:2195.10px;top:653px;font-size:16.5px;font-weight:bold;color:#1b1d20;transform:scaleX(1.0165);">4 875,88</span>
<div style="left:52px;top:734px;width:2223px;height:1px;background:#d0c4ea;"></div>
<div style="left:186px;top:683px;width:1px;height:51px;background:#d0c4ea;"></div>
<div style="left:414px;top:683px;width:1px;height:51px;background:#d0c4ea;"></div>
<div style="left:834px;top:683px;width:1px;height:51px;background:#d0c4ea;"></div>
<div style="left:1554px;top:683px;width:1px;height:51px;background:#d0c4ea;"></div>
<div style="left:2274px;top:683px;width:1px;height:51px;background:#d0c4ea;"></div>
<span class="t" style="left:110.45px;top:689px;font-size:16.5px;color:#1e2125;-webkit-text-stroke:0.12px currentColor;">3</span>
<span class="t" style="left:428.72px;top:690px;font-size:16px;font-weight:bold;color:#1b1d20;transform:scaleX(0.9849);">Глава 3. Объекты подсобного и обслуживающего</span>
<span class="t" style="left:428.60px;top:710px;font-size:16px;font-weight:bold;color:#1b1d20;">назначения</span>
<div style="left:52px;top:770px;width:2223px;height:1px;background:#d0c4ea;"></div>
<div style="left:186px;top:736px;width:1px;height:34px;background:#d0c4ea;"></div>
<div style="left:414px;top:736px;width:1px;height:34px;background:#d0c4ea;"></div>
<div style="left:834px;top:736px;width:1px;height:34px;background:#d0c4ea;"></div>
<div style="left:978px;top:736px;width:1px;height:34px;background:#d0c4ea;"></div>
<div style="left:1122px;top:736px;width:1px;height:34px;background:#d0c4ea;"></div>
<div style="left:1266px;top:736px;width:1px;height:34px;background:#d0c4ea;"></div>
<div style="left:1410px;top:736px;width:1px;height:34px;background:#d0c4ea;"></div>
<div style="left:1554px;top:736px;width:1px;height:34px;background:#d0c4ea;"></div>
<div style="left:1698px;top:736px;width:1px;height:34px;background:#d0c4ea;"></div>
<div style="left:1842px;top:736px;width:1px;height:34px;background:#d0c4ea;"></div>
<div style="left:1986px;top:736px;width:1px;height:34px;background:#d0c4ea;"></div>
<div style="left:2130px;top:736px;width:1px;height:34px;background:#d0c4ea;"></div>
<div style="left:2274px;top:736px;width:1px;height:34px;background:#d0c4ea;"></div>
<span class="t" style="left:103.77px;top:742px;font-size:16.5px;color:#1e2125;transform:scaleX(0.9777);-webkit-text-stroke:0.12px currentColor;">3.1</span>
<span class="t" style="left:194.17px;top:742px;font-size:16.5px;color:#1e2125;transform:scaleX(0.9770);-webkit-text-stroke:0.12px currentColor;">01-04-25</span>
<span class="t" style="left:428.49px;top:743px;font-size:16px;color:#1e2125;transform:scaleX(1.0622);-webkit-text-stroke:0.12px currentColor;">Подготовительные работы</span>
<span class="t" style="left:892.06px;top:742px;font-size:16.5px;color:#1e2125;transform:scaleX(0.9842);-webkit-text-stroke:0.12px currentColor;">46 553,83</span>
<span class="t" style="left:1077.09px;top:742px;font-size:16.5px;color:#1e2125;transform:scaleX(0.9561);-webkit-text-stroke:0.12px currentColor;">0,00</span>
<span class="t" style="left:1221.09px;top:742px;font-size:16.5px;color:#1e2125;transform:scaleX(0.9561);-webkit-text-stroke:0.12px currentColor;">0,00</span>
<span class="t" style="left:1365.09px;top:742px;font-size:16.5px;color:#1e2125;transform:scaleX(0.9561);-webkit-text-stroke:0.12px currentColor;">0,00</span>
<span class="t" style="left:1468.06px;top:742px;font-size:16.5px;color:#1e2125;transform:scaleX(0.9842);-webkit-text-stroke:0.12px currentColor;">46 553,83</span>
<span class="t" style="left:1621.17px;top:742px;font-size:16.5px;color:#1e2125;transform:scaleX(0.9798);-webkit-text-stroke:0.12px currentColor;">3 523,38</span>
<span class="t" style="left:1797.09px;top:742px;font-size:16.5px;color:#1e2125;transform:scaleX(0.9561);-webkit-text-stroke:0.12px currentColor;">0,00</span>
<span class="t" style="left:1941.09px;top:742px;font-size:16.5px;color:#1e2125;transform:scaleX(0.9561);-webkit-text-stroke:0.12px currentColor;">0,00</span>
<span class="t" style="left:2085.09px;top:742px;font-size:16.5px;color:#1e2125;transform:scaleX(0.9561);-webkit-text-stroke:0.12px currentColor;">0,00</span>
<span class="t" style="left:2197.17px;top:742px;font-size:16.5px;color:#1e2125;transform:scaleX(0.9798);-webkit-text-stroke:0.12px currentColor;">3 523,38</span>
<div style="left:52px;top:771px;width:2223px;height:35px;background:#ede9fd;"></div>
<div style="left:52px;top:806px;width:2223px;height:1px;background:#d0c4ea;"></div>
<div style="left:186px;top:772px;width:1px;height:34px;background:#d0c4ea;"></div>
<div style="left:414px;top:772px;width:1px;height:34px;background:#d0c4ea;"></div>
<div style="left:834px;top:772px;width:1px;height:34px;background:#d0c4ea;"></div>
<div style="left:978px;top:772px;width:1px;height:34px;background:#d0c4ea;"></div>
<div style="left:1122px;top:772px;width:1px;height:34px;background:#d0c4ea;"></div>
<div style="left:1266px;top:772px;width:1px;height:34px;background:#d0c4ea;"></div>
<div style="left:1410px;top:772px;width:1px;height:34px;background:#d0c4ea;"></div>
<div style="left:1554px;top:772px;width:1px;height:34px;background:#d0c4ea;"></div>
<div style="left:1698px;top:772px;width:1px;height:34px;background:#d0c4ea;"></div>
<div style="left:1842px;top:772px;width:1px;height:34px;background:#d0c4ea;"></div>
<div style="left:1986px;top:772px;width:1px;height:34px;background:#d0c4ea;"></div>
<div style="left:2130px;top:772px;width:1px;height:34px;background:#d0c4ea;"></div>
<div style="left:2274px;top:772px;width:1px;height:34px;background:#d0c4ea;"></div>
<span class="t" style="left:104.20px;top:778px;font-size:16.5px;font-weight:bold;color:#1b1d20;transform:scaleX(0.9969);">И3</span>
<span class="t" style="left:428.72px;top:779px;font-size:16px;font-weight:bold;color:#1b1d20;transform:scaleX(0.9797);">Итого по Главе 3</span>
<span class="t" style="left:889.70px;top:778px;font-size:16.5px;font-weight:bold;color:#1b1d20;transform:scaleX(1.0161);">46 553,83</span>
<span class="t" style="left:1075.19px;top:778px;font-size:16.5px;font-weight:bold;color:#1b1d20;transform:scaleX(1.0215);">0,00</span>
<span class="t" style="left:1219.19px;top:778px;font-size:16.5px;font-weight:bold;color:#1b1d20;transform:scaleX(1.0215);">0,00</span>
<span class="t" style="left:1363.19px;top:778px;font-size:16.5px;font-weight:bold;color:#1b1d20;transform:scaleX(1.0215);">0,00</span>
<span class="t" style="left:1465.70px;top:778px;font-size:16.5px;font-weight:bold;color:#1b1d20;transform:scaleX(1.0161);">46 553,83</span>
<span class="t" style="left:1619.10px;top:778px;font-size:16.5px;font-weight:bold;color:#1b1d20;transform:scaleX(1.0102);">3 523,38</span>
<span class="t" style="left:1795.19px;top:778px;font-size:16.5px;font-weight:bold;color:#1b1d20;transform:scaleX(1.0215);">0,00</span>
<span class="t" style="left:1939.19px;top:778px;font-size:16.5px;font-weight:bold;color:#1b1d20;transform:scaleX(1.0215);">0,00</span>
<span class="t" style="left:2083.19px;top:778px;font-size:16.5px;font-weight:bold;color:#1b1d20;transform:scaleX(1.0215);">0,00</span>
<span class="t" style="left:2195.10px;top:778px;font-size:16.5px;font-weight:bold;color:#1b1d20;transform:scaleX(1.0102);">3 523,38</span>
<div style="left:52px;top:842px;width:2223px;height:1px;background:#d0c4ea;"></div>
<div style="left:186px;top:808px;width:1px;height:34px;background:#d0c4ea;"></div>
<div style="left:414px;top:808px;width:1px;height:34px;background:#d0c4ea;"></div>
<div style="left:834px;top:808px;width:1px;height:34px;background:#d0c4ea;"></div>
<div style="left:1554px;top:808px;width:1px;height:34px;background:#d0c4ea;"></div>
<div style="left:2274px;top:808px;width:1px;height:34px;background:#d0c4ea;"></div>
<span class="t" style="left:110.50px;top:814px;font-size:16.5px;color:#1e2125;-webkit-text-stroke:0.12px currentColor;">4</span>
<span class="t" style="left:428.71px;top:815px;font-size:16px;font-weight:bold;color:#1b1d20;transform:scaleX(0.9875);">Глава 4. Объекты энергетического хозяйства</span>
<div style="left:52px;top:843px;width:2223px;height:35px;background:#ede9fd;"></div>
<div style="left:52px;top:878px;width:2223px;height:1px;background:#d0c4ea;"></div>
<div style="left:186px;top:844px;width:1px;height:34px;background:#d0c4ea;"></div>
<div style="left:414px;top:844px;width:1px;height:34px;background:#d0c4ea;"></div>
<div style="left:834px;top:844px;width:1px;height:34px;background:#d0c4ea;"></div>
<div style="left:978px;top:844px;width:1px;height:34px;background:#d0c4ea;"></div>
<div style="left:1122px;top:844px;width:1px;height:34px;background:#d0c4ea;"></div>
<div style="left:1266px;top:844px;width:1px;height:34px;background:#d0c4ea;"></div>
<div style="left:1410px;top:844px;width:1px;height:34px;background:#d0c4ea;"></div>
<div style="left:1554px;top:844px;width:1px;height:34px;background:#d0c4ea;"></div>
<div style="left:1698px;top:844px;width:1px;height:34px;background:#d0c4ea;"></div>
<div style="left:1842px;top:844px;width:1px;height:34px;background:#d0c4ea;"></div>
<div style="left:1986px;top:844px;width:1px;height:34px;background:#d0c4ea;"></div>
<div style="left:2130px;top:844px;width:1px;height:34px;background:#d0c4ea;"></div>
<div style="left:2274px;top:844px;width:1px;height:34px;background:#d0c4ea;"></div>
<span class="t" style="left:104.23px;top:850px;font-size:16.5px;font-weight:bold;color:#1b1d20;transform:scaleX(0.9720);">И4</span>
<span class="t" style="left:428.72px;top:851px;font-size:16px;font-weight:bold;color:#1b1d20;transform:scaleX(0.9760);">Итого по Главе 4</span>
<span class="t" style="left:931.19px;top:850px;font-size:16.5px;font-weight:bold;color:#1b1d20;transform:scaleX(1.0215);">0,00</span>
<span class="t" style="left:1075.19px;top:850px;font-size:16.5px;font-weight:bold;color:#1b1d20;transform:scaleX(1.0215);">0,00</span>
<span class="t" style="left:1219.19px;top:850px;font-size:16.5px;font-weight:bold;color:#1b1d20;transform:scaleX(1.0215);">0,00</span>
<span class="t" style="left:1363.19px;top:850px;font-size:16.5px;font-weight:bold;color:#1b1d20;transform:scaleX(1.0215);">0,00</span>
<span class="t" style="left:1507.19px;top:850px;font-size:16.5px;font-weight:bold;color:#1b1d20;transform:scaleX(1.0215);">0,00</span>
<span class="t" style="left:1651.19px;top:850px;font-size:16.5px;font-weight:bold;color:#1b1d20;transform:scaleX(1.0215);">0,00</span>
<span class="t" style="left:1795.19px;top:850px;font-size:16.5px;font-weight:bold;color:#1b1d20;transform:scaleX(1.0215);">0,00</span>
<span class="t" style="left:1939.19px;top:850px;font-size:16.5px;font-weight:bold;color:#1b1d20;transform:scaleX(1.0215);">0,00</span>
<span class="t" style="left:2083.19px;top:850px;font-size:16.5px;font-weight:bold;color:#1b1d20;transform:scaleX(1.0215);">0,00</span>
<span class="t" style="left:2227.19px;top:850px;font-size:16.5px;font-weight:bold;color:#1b1d20;transform:scaleX(1.0215);">0,00</span>
<div style="left:52px;top:931px;width:2223px;height:1px;background:#d0c4ea;"></div>
<div style="left:186px;top:880px;width:1px;height:51px;background:#d0c4ea;"></div>
<div style="left:414px;top:880px;width:1px;height:51px;background:#d0c4ea;"></div>
<div style="left:834px;top:880px;width:1px;height:51px;background:#d0c4ea;"></div>
<div style="left:1554px;top:880px;width:1px;height:51px;background:#d0c4ea;"></div>
<div style="left:2274px;top:880px;width:1px;height:51px;background:#d0c4ea;"></div>
<span class="t" style="left:110.45px;top:886px;font-size:16.5px;color:#1e2125;-webkit-text-stroke:0.12px currentColor;">5</span>
<span class="t" style="left:428.72px;top:887px;font-size:16px;font-weight:bold;color:#1b1d20;transform:scaleX(0.9835);">Глава 5. Объекты транспортного хозяйства и</span>
<span class="t" style="left:429.10px;top:907px;font-size:16px;font-weight:bold;color:#1b1d20;transform:scaleX(1.0065);">связи</span>
<div style="left:52px;top:932px;width:2223px;height:35px;background:#ede9fd;"></div>
<div style="left:52px;top:967px;width:2223px;height:1px;background:#d0c4ea;"></div>
<div style="left:186px;top:933px;width:1px;height:34px;background:#d0c4ea;"></div>
<div style="left:414px;top:933px;width:1px;height:34px;background:#d0c4ea;"></div>
<div style="left:834px;top:933px;width:1px;height:34px;background:#d0c4ea;"></div>
<div style="left:978px;top:933px;width:1px;height:34px;background:#d0c4ea;"></div>
<div style="left:1122px;top:933px;width:1px;height:34px;background:#d0c4ea;"></div>
<div style="left:1266px;top:933px;width:1px;height:34px;background:#d0c4ea;"></div>
<div style="left:1410px;top:933px;width:1px;height:34px;background:#d0c4ea;"></div>
<div style="left:1554px;top:933px;width:1px;height:34px;background:#d0c4ea;"></div>
<div style="left:1698px;top:933px;width:1px;height:34px;background:#d0c4ea;"></div>
<div style="left:1842px;top:933px;width:1px;height:34px;background:#d0c4ea;"></div>
<div style="left:1986px;top:933px;width:1px;height:34px;background:#d0c4ea;"></div>
<div style="left:2130px;top:933px;width:1px;height:34px;background:#d0c4ea;"></div>
<div style="left:2274px;top:933px;width:1px;height:34px;background:#d0c4ea;"></div>
<span class="t" style="left:104.21px;top:939px;font-size:16.5px;font-weight:bold;color:#1b1d20;transform:scaleX(0.9868);">И5</span>
<span class="t" style="left:428.72px;top:940px;font-size:16px;font-weight:bold;color:#1b1d20;transform:scaleX(0.9790);">Итого по Главе 5</span>
<span class="t" style="left:931.19px;top:939px;font-size:16.5px;font-weight:bold;color:#1b1d20;transform:scaleX(1.0215);">0,00</span>
<span class="t" style="left:1075.19px;top:939px;font-size:16.5px;font-weight:bold;color:#1b1d20;transform:scaleX(1.0215);">0,00</span>
<span class="t" style="left:1219.19px;top:939px;font-size:16.5px;font-weight:bold;color:#1b1d20;transform:scaleX(1.0215);">0,00</span>
<span class="t" style="left:1363.19px;top:939px;font-size:16.5px;font-weight:bold;color:#1b1d20;transform:scaleX(1.0215);">0,00</span>
<span class="t" style="left:1507.19px;top:939px;font-size:16.5px;font-weight:bold;color:#1b1d20;transform:scaleX(1.0215);">0,00</span>
<span class="t" style="left:1651.19px;top:939px;font-size:16.5px;font-weight:bold;color:#1b1d20;transform:scaleX(1.0215);">0,00</span>
<span class="t" style="left:1795.19px;top:939px;font-size:16.5px;font-weight:bold;color:#1b1d20;transform:scaleX(1.0215);">0,00</span>
<span class="t" style="left:1939.19px;top:939px;font-size:16.5px;font-weight:bold;color:#1b1d20;transform:scaleX(1.0215);">0,00</span>
<span class="t" style="left:2083.19px;top:939px;font-size:16.5px;font-weight:bold;color:#1b1d20;transform:scaleX(1.0215);">0,00</span>
<span class="t" style="left:2227.19px;top:939px;font-size:16.5px;font-weight:bold;color:#1b1d20;transform:scaleX(1.0215);">0,00</span>
<div style="left:52px;top:1041px;width:2223px;height:1px;background:#d0c4ea;"></div>
<div style="left:186px;top:969px;width:1px;height:72px;background:#d0c4ea;"></div>
<div style="left:414px;top:969px;width:1px;height:72px;background:#d0c4ea;"></div>
<div style="left:834px;top:969px;width:1px;height:72px;background:#d0c4ea;"></div>
<div style="left:1554px;top:969px;width:1px;height:72px;background:#d0c4ea;"></div>
<div style="left:2274px;top:969px;width:1px;height:72px;background:#d0c4ea;"></div>
<span class="t" style="left:110.35px;top:975px;font-size:16.5px;color:#1e2125;-webkit-text-stroke:0.12px currentColor;">6</span>
<span class="t" style="left:428.71px;top:976px;font-size:16px;font-weight:bold;color:#1b1d20;transform:scaleX(0.9943);">Глава 6. Наружные сети и сооружения</span>
<span class="t" style="left:428.61px;top:996px;font-size:16px;font-weight:bold;color:#1b1d20;transform:scaleX(0.9921);">водоснабжения, водоотведения,</span>
<span class="t" style="left:429.30px;top:1016px;font-size:16px;font-weight:bold;color:#1b1d20;">теплоснабжения и газоснабжения</span>
<div style="left:52px;top:1042px;width:2223px;height:35px;background:#ede9fd;"></div>
<div style="left:52px;top:1077px;width:2223px;height:1px;background:#d0c4ea;"></div>
<div style="left:186px;top:1043px;width:1px;height:34px;background:#d0c4ea;"></div>
<div style="left:414px;top:1043px;width:1px;height:34px;background:#d0c4ea;"></div>
<div style="left:834px;top:1043px;width:1px;height:34px;background:#d0c4ea;"></div>
<div style="left:978px;top:1043px;width:1px;height:34px;background:#d0c4ea;"></div>
<div style="left:1122px;top:1043px;width:1px;height:34px;background:#d0c4ea;"></div>
<div style="left:1266px;top:1043px;width:1px;height:34px;background:#d0c4ea;"></div>
<div style="left:1410px;top:1043px;width:1px;height:34px;background:#d0c4ea;"></div>
<div style="left:1554px;top:1043px;width:1px;height:34px;background:#d0c4ea;"></div>
<div style="left:1698px;top:1043px;width:1px;height:34px;background:#d0c4ea;"></div>
<div style="left:1842px;top:1043px;width:1px;height:34px;background:#d0c4ea;"></div>
<div style="left:1986px;top:1043px;width:1px;height:34px;background:#d0c4ea;"></div>
<div style="left:2130px;top:1043px;width:1px;height:34px;background:#d0c4ea;"></div>
<div style="left:2274px;top:1043px;width:1px;height:34px;background:#d0c4ea;"></div>
<span class="t" style="left:104.20px;top:1049px;font-size:16.5px;font-weight:bold;color:#1b1d20;transform:scaleX(0.9969);">И6</span>
<span class="t" style="left:428.72px;top:1050px;font-size:16px;font-weight:bold;color:#1b1d20;transform:scaleX(0.9797);">Итого по Главе 6</span>
<span class="t" style="left:931.19px;top:1049px;font-size:16.5px;font-weight:bold;color:#1b1d20;transform:scaleX(1.0215);">0,00</span>
<span class="t" style="left:1075.19px;top:1049px;font-size:16.5px;font-weight:bold;color:#1b1d20;transform:scaleX(1.0215);">0,00</span>
<span class="t" style="left:1219.19px;top:1049px;font-size:16.5px;font-weight:bold;color:#1b1d20;transform:scaleX(1.0215);">0,00</span>
<span class="t" style="left:1363.19px;top:1049px;font-size:16.5px;font-weight:bold;color:#1b1d20;transform:scaleX(1.0215);">0,00</span>
<span class="t" style="left:1507.19px;top:1049px;font-size:16.5px;font-weight:bold;color:#1b1d20;transform:scaleX(1.0215);">0,00</span>
<span class="t" style="left:1651.19px;top:1049px;font-size:16.5px;font-weight:bold;color:#1b1d20;transform:scaleX(1.0215);">0,00</span>
<span class="t" style="left:1795.19px;top:1049px;font-size:16.5px;font-weight:bold;color:#1b1d20;transform:scaleX(1.0215);">0,00</span>
<span class="t" style="left:1939.19px;top:1049px;font-size:16.5px;font-weight:bold;color:#1b1d20;transform:scaleX(1.0215);">0,00</span>
<span class="t" style="left:2083.19px;top:1049px;font-size:16.5px;font-weight:bold;color:#1b1d20;transform:scaleX(1.0215);">0,00</span>
<span class="t" style="left:2227.19px;top:1049px;font-size:16.5px;font-weight:bold;color:#1b1d20;transform:scaleX(1.0215);">0,00</span>
<div style="left:52px;top:1130px;width:2223px;height:1px;background:#d0c4ea;"></div>
<div style="left:186px;top:1079px;width:1px;height:51px;background:#d0c4ea;"></div>
<div style="left:414px;top:1079px;width:1px;height:51px;background:#d0c4ea;"></div>
<div style="left:834px;top:1079px;width:1px;height:51px;background:#d0c4ea;"></div>
<div style="left:1554px;top:1079px;width:1px;height:51px;background:#d0c4ea;"></div>
<div style="left:2274px;top:1079px;width:1px;height:51px;background:#d0c4ea;"></div>
<span class="t" style="left:110.40px;top:1085px;font-size:16.5px;color:#1e2125;-webkit-text-stroke:0.12px currentColor;">7</span>
<span class="t" style="left:428.72px;top:1086px;font-size:16px;font-weight:bold;color:#1b1d20;transform:scaleX(0.9760);">Глава 7. Благоустройство и озеленение</span>
<span class="t" style="left:429.31px;top:1106px;font-size:16px;font-weight:bold;color:#1b1d20;transform:scaleX(0.9790);">территории</span>
<div style="left:52px;top:1131px;width:2223px;height:35px;background:#ede9fd;"></div>
<div style="left:52px;top:1166px;width:2223px;height:1px;background:#d0c4ea;"></div>
<div style="left:186px;top:1132px;width:1px;height:34px;background:#d0c4ea;"></div>
<div style="left:414px;top:1132px;width:1px;height:34px;background:#d0c4ea;"></div>
<div style="left:834px;top:1132px;width:1px;height:34px;background:#d0c4ea;"></div>
<div style="left:978px;top:1132px;width:1px;height:34px;background:#d0c4ea;"></div>
<div style="left:1122px;top:1132px;width:1px;height:34px;background:#d0c4ea;"></div>
<div style="left:1266px;top:1132px;width:1px;height:34px;background:#d0c4ea;"></div>
<div style="left:1410px;top:1132px;width:1px;height:34px;background:#d0c4ea;"></div>
<div style="left:1554px;top:1132px;width:1px;height:34px;background:#d0c4ea;"></div>
<div style="left:1698px;top:1132px;width:1px;height:34px;background:#d0c4ea;"></div>
<div style="left:1842px;top:1132px;width:1px;height:34px;background:#d0c4ea;"></div>
<div style="left:1986px;top:1132px;width:1px;height:34px;background:#d0c4ea;"></div>
<div style="left:2130px;top:1132px;width:1px;height:34px;background:#d0c4ea;"></div>
<div style="left:2274px;top:1132px;width:1px;height:34px;background:#d0c4ea;"></div>
<span class="t" style="left:104.20px;top:1138px;font-size:16.5px;font-weight:bold;color:#1b1d20;transform:scaleX(1.0021);">И7</span>
<span class="t" style="left:428.72px;top:1139px;font-size:16px;font-weight:bold;color:#1b1d20;transform:scaleX(0.9812);">Итого по Главе 7</span>
<span class="t" style="left:931.19px;top:1138px;font-size:16.5px;font-weight:bold;color:#1b1d20;transform:scaleX(1.0215);">0,00</span>
<span class="t" style="left:1075.19px;top:1138px;font-size:16.5px;font-weight:bold;color:#1b1d20;transform:scaleX(1.0215);">0,00</span>
<span class="t" style="left:1219.19px;top:1138px;font-size:16.5px;font-weight:bold;color:#1b1d20;transform:scaleX(1.0215);">0,00</span>
<span class="t" style="left:1363.19px;top:1138px;font-size:16.5px;font-weight:bold;color:#1b1d20;transform:scaleX(1.0215);">0,00</span>
<span class="t" style="left:1507.19px;top:1138px;font-size:16.5px;font-weight:bold;color:#1b1d20;transform:scaleX(1.0215);">0,00</span>
<span class="t" style="left:1651.19px;top:1138px;font-size:16.5px;font-weight:bold;color:#1b1d20;transform:scaleX(1.0215);">0,00</span>
<span class="t" style="left:1795.19px;top:1138px;font-size:16.5px;font-weight:bold;color:#1b1d20;transform:scaleX(1.0215);">0,00</span>
<span class="t" style="left:1939.19px;top:1138px;font-size:16.5px;font-weight:bold;color:#1b1d20;transform:scaleX(1.0215);">0,00</span>
<span class="t" style="left:2083.19px;top:1138px;font-size:16.5px;font-weight:bold;color:#1b1d20;transform:scaleX(1.0215);">0,00</span>
<span class="t" style="left:2227.19px;top:1138px;font-size:16.5px;font-weight:bold;color:#1b1d20;transform:scaleX(1.0215);">0,00</span>
<div style="left:52px;top:1167px;width:2223px;height:31px;background:#ede9fd;"></div>
<div style="left:52px;top:1198px;width:2223px;height:1px;background:#d0c4ea;"></div>
<div style="left:186px;top:1168px;width:1px;height:30px;background:#d0c4ea;"></div>
<div style="left:414px;top:1168px;width:1px;height:30px;background:#d0c4ea;"></div>
<div style="left:834px;top:1168px;width:1px;height:30px;background:#d0c4ea;"></div>
<div style="left:978px;top:1168px;width:1px;height:30px;background:#d0c4ea;"></div>
<div style="left:1122px;top:1168px;width:1px;height:30px;background:#d0c4ea;"></div>
<div style="left:1266px;top:1168px;width:1px;height:30px;background:#d0c4ea;"></div>
<div style="left:1410px;top:1168px;width:1px;height:30px;background:#d0c4ea;"></div>
<div style="left:1554px;top:1168px;width:1px;height:30px;background:#d0c4ea;"></div>
<div style="left:1698px;top:1168px;width:1px;height:30px;background:#d0c4ea;"></div>
<div style="left:1842px;top:1168px;width:1px;height:30px;background:#d0c4ea;"></div>
<div style="left:1986px;top:1168px;width:1px;height:30px;background:#d0c4ea;"></div>
<div style="left:2130px;top:1168px;width:1px;height:30px;background:#d0c4ea;"></div>
<div style="left:2274px;top:1168px;width:1px;height:30px;background:#d0c4ea;"></div>
<span class="t" style="left:104.20px;top:1174px;font-size:16.5px;font-weight:bold;color:#1b1d20;transform:scaleX(0.9969);">И9</span>
<span class="t" style="left:428.70px;top:1175px;font-size:16px;font-weight:bold;color:#1b1d20;transform:scaleX(0.9980);">Итого по Главам 1-7</span>
<span class="t" style="left:880.18px;top:1174px;font-size:16.5px;font-weight:bold;color:#1b1d20;transform:scaleX(1.0159);">160 460,44</span>
<span class="t" style="left:1075.19px;top:1174px;font-size:16.5px;font-weight:bold;color:#1b1d20;transform:scaleX(1.0215);">0,00</span>
<span class="t" style="left:1219.19px;top:1174px;font-size:16.5px;font-weight:bold;color:#1b1d20;transform:scaleX(1.0215);">0,00</span>
<span class="t" style="left:1363.19px;top:1174px;font-size:16.5px;font-weight:bold;color:#1b1d20;transform:scaleX(1.0215);">0,00</span>
<span class="t" style="left:1456.18px;top:1174px;font-size:16.5px;font-weight:bold;color:#1b1d20;transform:scaleX(1.0159);">160 460,44</span>
<span class="t" style="left:1609.58px;top:1174px;font-size:16.5px;font-weight:bold;color:#1b1d20;transform:scaleX(1.0219);">12 399,82</span>
<span class="t" style="left:1795.19px;top:1174px;font-size:16.5px;font-weight:bold;color:#1b1d20;transform:scaleX(1.0215);">0,00</span>
<span class="t" style="left:1939.19px;top:1174px;font-size:16.5px;font-weight:bold;color:#1b1d20;transform:scaleX(1.0215);">0,00</span>
<span class="t" style="left:2083.19px;top:1174px;font-size:16.5px;font-weight:bold;color:#1b1d20;transform:scaleX(1.0215);">0,00</span>
<span class="t" style="left:2185.58px;top:1174px;font-size:16.5px;font-weight:bold;color:#1b1d20;transform:scaleX(1.0219);">12 399,82</span>
<svg style="left:57.4px;top:615px;" width="13" height="17" viewBox="0 0 13 17"><path d="M6.8 0L0.2 9.6H5.6L3.6 16.6L12.4 6.4H7.4L10 0Z" fill="#d0432b"/></svg>
<div style="left:2525px;top:297px;width:1px;height:901px;background:#d0c4ea;"></div>
<div style="left:2526px;top:296px;width:35px;height:1px;background:#d0c4ea;"></div>
<div style="left:2526px;top:512px;width:35px;height:1px;background:#d0c4ea;"></div>
<div style="left:2516px;top:449px;width:9px;height:354px;background:#a695d3;border-radius:4.5px;"></div>
<span class="t" style="left:2555.5px;top:320.95px;font-size:18px;color:#000;transform:rotate(90deg) scaleX(1.0246);-webkit-text-stroke:0.35px currentColor;">Список начислений</span>
<div style="left:54px;top:1198px;width:2507px;height:1px;background:#d0c4ea;"></div>
<div style="left:51px;top:1190px;width:8px;height:9px;border-left:1px solid #d0c4ea;border-bottom:1px solid #d0c4ea;border-radius:0 0 0 4px;"></div>
<div style="left:51px;top:1199px;width:300px;height:6px;background:#ffa000;"></div>
<div style="left:51px;top:1205px;width:300px;height:39px;background:#ffeab3;"></div>
<svg style="left:87px;top:1209px;" width="26" height="26" viewBox="0 0 26 26"><rect x="0" y="6.4" width="10" height="19.6" fill="#e8b15f"/><rect x="1.6" y="9" width="2.4" height="2.6" fill="#f6dcae"/><rect x="5.4" y="9" width="2.4" height="2.6" fill="#f6dcae"/><rect x="1.6" y="13.6" width="2.4" height="2.6" fill="#f6dcae"/><rect x="5.4" y="13.6" width="2.4" height="2.6" fill="#f6dcae"/><rect x="1.6" y="18.2" width="2.4" height="2.6" fill="#f6dcae"/><rect x="5.4" y="18.2" width="2.4" height="2.6" fill="#f6dcae"/><rect x="3.4" y="22.6" width="3.4" height="2.4" fill="#f6dcae"/><rect x="11.4" y="0" width="14.6" height="26" fill="#4f2da8"/><rect x="13.4" y="2.6" width="2.4" height="2.8" fill="#fff"/><rect x="17.6" y="2.6" width="2.4" height="2.8" fill="#fff"/><rect x="21.8" y="2.6" width="2.4" height="2.8" fill="#fff"/><rect x="13.4" y="7" width="2.4" height="2.8" fill="#fff"/><rect x="17.6" y="7" width="2.4" height="2.8" fill="#fff"/><rect x="21.8" y="7" width="2.4" height="2.8" fill="#fff"/><rect x="13.4" y="11.4" width="2.4" height="2.8" fill="#fff"/><rect x="17.6" y="11.4" width="2.4" height="2.8" fill="#fff"/><rect x="21.8" y="11.4" width="2.4" height="2.8" fill="#fff"/><rect x="13.4" y="15.8" width="2.4" height="2.8" fill="#fff"/><rect x="17.6" y="15.8" width="2.4" height="2.8" fill="#fff"/><rect x="21.8" y="15.8" width="2.4" height="2.8" fill="#fff"/><rect x="16.6" y="21" width="4.4" height="3.2" fill="#fff"/></svg>
<span class="t" style="left:121.80px;top:1212px;font-size:20px;font-weight:bold;color:#1c1c1c;">Сводный сметны...</span>
<svg style="left:324px;top:1213px;" width="17" height="17" viewBox="0 0 17 17"><path d="M1 1L16 16M16 1L1 16" stroke="#111" stroke-width="2" fill="none"/></svg>
<div style="left:1913px;top:1199px;width:1px;height:41px;background:#e6e6e6;"></div>
<span class="t" style="left:1931.10px;top:1212px;font-size:20px;font-weight:bold;">Всего</span>
<span class="t" style="left:2013.93px;top:1212px;font-size:20px;color:#1c1c1c;transform:scaleX(1.0411);-webkit-text-stroke:0.2px currentColor;">Б: 12 399,82 тыс. р.</span>
<span class="t" style="left:2228.09px;top:1212px;font-size:20px;color:#1c1c1c;transform:scaleX(1.0358);-webkit-text-stroke:0.2px currentColor;">Т: 160 460,44 тыс. р.</span>
<div style="left:1470px;top:214px;width:222px;height:52px;background:#fff;box-shadow:0 2px 7px 1px rgba(0,0,0,0.4);"></div>
<svg style="left:0;top:0" width="2562" height="300"><rect x="1472.9" y="216.0" width="217.90" height="47.80" fill="none" stroke="#ff0000" stroke-width="3.2"/></svg>
<span class="t" style="left:1485.71px;top:231px;font-size:17px;color:#1c1c1c;transform:scaleX(0.9471);-webkit-text-stroke:0.1px currentColor;">в формат XML ТСН-2001</span>
</div>
</body></html>
